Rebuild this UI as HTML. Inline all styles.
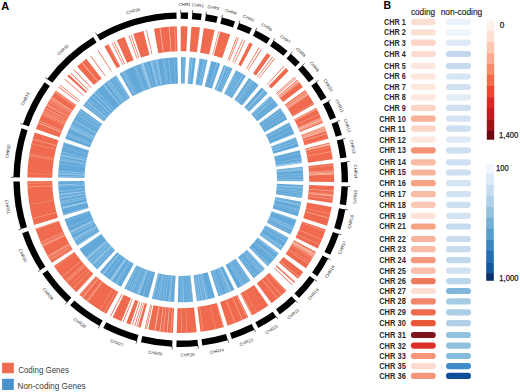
<!DOCTYPE html>
<html><head><meta charset="utf-8"><style>
html,body{margin:0;padding:0;background:#fff;}
svg{display:block;font-family:"Liberation Sans",sans-serif;}
</style></head><body>
<svg width="520" height="392" viewBox="0 0 520 392">
<path fill="#000" d="M180.69,12.40A167.3,167.3 0 0 1 188.13,12.57L187.84,18.96A160.9,160.9 0 0 0 180.69,18.80ZM192.36,12.81A167.3,167.3 0 0 1 201.77,13.73L200.96,20.08A160.9,160.9 0 0 0 191.91,19.19ZM205.96,14.32A167.3,167.3 0 0 1 217.75,16.55L216.33,22.80A160.9,160.9 0 0 0 205.00,20.64ZM221.87,17.54A167.3,167.3 0 0 1 235.10,21.49L233.02,27.54A160.9,160.9 0 0 0 220.29,23.75ZM239.08,22.92A167.3,167.3 0 0 1 251.87,28.29L249.14,34.08A160.9,160.9 0 0 0 236.85,28.92ZM255.68,30.14A167.3,167.3 0 0 1 270.04,38.25L266.62,43.66A160.9,160.9 0 0 0 252.81,35.86ZM273.59,40.55A167.3,167.3 0 0 1 287.51,50.93L283.42,55.86A160.9,160.9 0 0 0 270.03,45.88ZM290.73,53.68A167.3,167.3 0 0 1 299.77,62.18L295.22,66.67A160.9,160.9 0 0 0 286.52,58.50ZM302.71,65.23A167.3,167.3 0 0 1 313.92,78.49L308.82,82.36A160.9,160.9 0 0 0 298.04,69.61ZM316.43,81.90A167.3,167.3 0 0 1 326.42,97.51L320.84,100.65A160.9,160.9 0 0 0 311.24,85.64ZM328.45,101.22A167.3,167.3 0 0 1 336.01,117.50L330.07,119.88A160.9,160.9 0 0 0 322.80,104.22ZM337.53,121.45A167.3,167.3 0 0 1 341.90,134.92L335.73,136.63A160.9,160.9 0 0 0 331.53,123.68ZM342.98,139.01A167.3,167.3 0 0 1 346.52,157.50L340.18,158.35A160.9,160.9 0 0 0 336.77,140.57ZM347.03,161.70A167.3,167.3 0 0 1 347.98,182.25L341.58,182.16A160.9,160.9 0 0 0 340.67,162.39ZM347.86,186.49A167.3,167.3 0 0 1 346.04,205.22L339.72,204.25A160.9,160.9 0 0 0 341.47,186.23ZM345.34,209.40A167.3,167.3 0 0 1 340.28,229.94L334.17,228.02A160.9,160.9 0 0 0 339.04,208.26ZM338.96,233.96A167.3,167.3 0 0 1 330.19,254.81L324.47,251.93A160.9,160.9 0 0 0 332.90,231.88ZM328.25,258.56A167.3,167.3 0 0 1 317.28,276.32L312.06,272.62A160.9,160.9 0 0 0 322.60,255.55ZM314.79,279.74A167.3,167.3 0 0 1 299.05,297.95L294.52,293.42A160.9,160.9 0 0 0 309.66,275.91ZM296.02,300.90A167.3,167.3 0 0 1 279.80,314.49L276.01,309.33A160.9,160.9 0 0 0 291.61,296.27ZM276.36,316.95A167.3,167.3 0 0 1 258.27,327.93L255.31,322.26A160.9,160.9 0 0 0 272.70,311.70ZM254.50,329.84A167.3,167.3 0 0 1 231.91,338.97L229.95,332.88A160.9,160.9 0 0 0 251.68,324.10ZM227.87,340.21A167.3,167.3 0 0 1 202.32,345.60L201.49,339.25A160.9,160.9 0 0 0 226.06,334.07ZM198.12,346.09A167.3,167.3 0 0 1 176.39,346.94L176.56,340.55A160.9,160.9 0 0 0 197.45,339.73ZM172.16,346.78A167.3,167.3 0 0 1 140.86,342.19L142.39,335.97A160.9,160.9 0 0 0 172.49,340.39ZM136.77,341.13A167.3,167.3 0 0 1 103.26,328.00L106.22,322.32A160.9,160.9 0 0 0 138.45,334.95ZM99.53,325.99A167.3,167.3 0 0 1 70.12,305.24L74.35,300.44A160.9,160.9 0 0 0 102.63,320.39ZM66.98,302.40A167.3,167.3 0 0 1 42.37,273.80L47.66,270.20A160.9,160.9 0 0 0 71.33,297.71ZM40.03,270.27A167.3,167.3 0 0 1 22.16,233.13L28.23,231.09A160.9,160.9 0 0 0 45.41,266.80ZM20.86,229.10A167.3,167.3 0 0 1 13.41,181.52L19.81,181.46A160.9,160.9 0 0 0 26.97,227.21ZM13.42,177.29A167.3,167.3 0 0 1 21.48,128.35L27.57,130.31A160.9,160.9 0 0 0 19.82,177.38ZM22.83,124.34A167.3,167.3 0 0 1 44.63,82.37L49.83,86.09A160.9,160.9 0 0 0 28.87,126.45ZM47.13,78.96A167.3,167.3 0 0 1 93.22,37.09L96.57,42.55A160.9,160.9 0 0 0 52.24,82.81ZM96.86,34.92A167.3,167.3 0 0 1 176.45,12.45L176.61,18.85A160.9,160.9 0 0 0 100.07,40.46Z"/>
<path stroke="#000" stroke-width="0.6" d="M180.69,12.90L180.69,9.80M192.32,13.31L192.54,10.21M205.89,14.81L206.36,11.75M221.74,18.03L222.51,15.02M238.91,23.39L239.99,20.48M255.45,30.59L256.84,27.82M273.31,40.97L275.03,38.39M290.41,54.05L292.44,51.72M302.34,65.57L304.60,63.45M316.03,82.19L318.54,80.38M328.01,101.46L330.75,100.00M337.06,121.63L339.97,120.55M342.49,139.14L345.50,138.38M346.53,161.76L349.61,161.42M347.36,186.47L350.46,186.59M344.85,209.31L347.90,209.86M338.48,233.80L341.42,234.80M327.80,258.33L330.54,259.79M314.39,279.44L316.88,281.30M295.68,300.54L297.81,302.79M276.07,316.54L277.85,319.09M254.28,329.39L255.65,332.18M227.72,339.73L228.60,342.71M198.06,345.59L198.39,348.68M172.19,346.28L172.03,349.38M136.90,340.65L136.08,343.64M99.77,325.55L98.27,328.26M67.32,302.04L65.21,304.31M40.45,270.00L37.85,271.67M21.34,228.95L18.38,229.87M13.92,177.30L10.82,177.25M23.30,124.50L20.37,123.48M47.53,79.26L45.06,77.39M97.11,35.36L95.56,32.67"/>
<path fill="#ef6a4e" d="M180.69,26.30A153.4,153.4 0 0 1 187.51,26.45L186.41,51.33A128.5,128.5 0 0 0 180.69,51.20ZM191.39,26.67A153.4,153.4 0 0 1 200.02,27.52L196.88,52.22A128.5,128.5 0 0 0 189.65,51.51ZM203.86,28.06A153.4,153.4 0 0 1 214.67,30.11L209.16,54.39A128.5,128.5 0 0 0 200.10,52.67ZM218.45,31.02A153.4,153.4 0 0 1 219.08,31.18L212.85,55.29A128.5,128.5 0 0 0 212.32,55.15ZM220.16,31.46A153.4,153.4 0 0 1 230.22,34.51L222.18,58.08A128.5,128.5 0 0 0 213.76,55.52ZM236.59,36.84A153.4,153.4 0 0 1 237.34,37.14L228.14,60.28A128.5,128.5 0 0 0 227.52,60.03ZM238.25,37.50A153.4,153.4 0 0 1 238.99,37.81L229.53,60.84A128.5,128.5 0 0 0 228.90,60.58ZM242.25,39.19A153.4,153.4 0 0 1 242.95,39.50L232.84,62.25A128.5,128.5 0 0 0 232.26,62.00ZM244.67,40.27A153.4,153.4 0 0 1 245.40,40.61L234.89,63.19A128.5,128.5 0 0 0 234.28,62.91ZM249.45,42.57A153.4,153.4 0 0 1 252.67,44.23L240.99,66.22A128.5,128.5 0 0 0 238.29,64.83ZM258.66,47.58A153.4,153.4 0 0 1 259.35,47.99L246.58,69.37A128.5,128.5 0 0 0 246.00,69.03ZM260.99,48.99A153.4,153.4 0 0 1 261.67,49.41L248.53,70.56A128.5,128.5 0 0 0 247.96,70.21ZM267.06,52.92A153.4,153.4 0 0 1 270.58,55.39L255.99,75.57A128.5,128.5 0 0 0 253.04,73.50ZM272.31,56.66A153.4,153.4 0 0 1 272.95,57.14L257.98,77.03A128.5,128.5 0 0 0 257.44,76.63ZM274.34,58.20A153.4,153.4 0 0 1 274.98,58.69L259.67,78.33A128.5,128.5 0 0 0 259.14,77.92ZM283.59,65.92A153.4,153.4 0 0 1 284.18,66.46L267.39,84.84A128.5,128.5 0 0 0 266.89,84.39ZM285.81,67.97A153.4,153.4 0 0 1 288.75,70.81L271.21,88.49A128.5,128.5 0 0 0 268.75,86.10ZM294.35,76.67A153.4,153.4 0 0 1 294.89,77.27L276.35,93.89A128.5,128.5 0 0 0 275.90,93.39ZM295.52,77.97A153.4,153.4 0 0 1 296.05,78.58L277.33,94.99A128.5,128.5 0 0 0 276.88,94.49ZM297.04,79.72A153.4,153.4 0 0 1 302.85,86.90L283.02,101.96A128.5,128.5 0 0 0 278.16,95.95ZM305.16,90.02A153.4,153.4 0 0 1 314.31,104.34L292.62,116.57A128.5,128.5 0 0 0 284.95,104.58ZM316.18,107.74A153.4,153.4 0 0 1 323.10,122.67L299.99,131.93A128.5,128.5 0 0 0 294.19,119.42ZM324.50,126.29A153.4,153.4 0 0 1 328.50,138.64L304.51,145.31A128.5,128.5 0 0 0 301.16,134.96ZM329.49,142.39A153.4,153.4 0 0 1 332.74,159.35L308.06,162.65A128.5,128.5 0 0 0 305.34,148.45ZM333.21,163.20A153.4,153.4 0 0 1 334.08,182.04L309.19,181.66A128.5,128.5 0 0 0 308.45,165.88ZM333.97,185.92A153.4,153.4 0 0 1 332.30,203.10L307.70,199.30A128.5,128.5 0 0 0 309.09,184.91ZM331.66,206.93A153.4,153.4 0 0 1 327.02,225.76L303.27,218.29A128.5,128.5 0 0 0 307.16,202.51ZM325.81,229.45A153.4,153.4 0 0 1 317.77,248.57L295.52,237.39A128.5,128.5 0 0 0 302.25,221.38ZM315.99,252.01A153.4,153.4 0 0 1 305.93,268.29L285.61,253.91A128.5,128.5 0 0 0 294.03,240.27ZM303.25,271.96A153.4,153.4 0 0 1 297.88,278.69L278.86,262.62A128.5,128.5 0 0 0 283.36,256.98ZM295.25,281.73A153.4,153.4 0 0 1 294.72,282.32L276.21,265.67A128.5,128.5 0 0 0 276.66,265.17ZM294.66,282.38A153.4,153.4 0 0 1 294.12,282.98L275.71,266.22A128.5,128.5 0 0 0 276.16,265.72ZM292.57,284.66A153.4,153.4 0 0 1 292.02,285.25L273.95,268.11A128.5,128.5 0 0 0 274.41,267.62ZM286.44,290.83A153.4,153.4 0 0 1 271.57,303.29L256.82,283.23A128.5,128.5 0 0 0 269.28,272.79ZM268.41,305.55A153.4,153.4 0 0 1 251.83,315.61L240.28,293.55A128.5,128.5 0 0 0 254.17,285.12ZM248.37,317.37A153.4,153.4 0 0 1 227.66,325.74L220.04,302.03A128.5,128.5 0 0 0 237.38,295.02ZM223.95,326.88A153.4,153.4 0 0 1 200.52,331.81L197.31,307.12A128.5,128.5 0 0 0 216.93,302.99ZM196.67,332.27A153.4,153.4 0 0 1 176.75,333.05L177.39,308.16A128.5,128.5 0 0 0 194.08,307.50ZM172.87,332.90A153.4,153.4 0 0 1 148.14,329.60L153.42,305.27A128.5,128.5 0 0 0 174.14,308.03ZM146.83,329.31A153.4,153.4 0 0 1 146.04,329.13L151.67,304.88A128.5,128.5 0 0 0 152.33,305.03ZM145.41,328.99A153.4,153.4 0 0 1 144.63,328.80L150.49,304.60A128.5,128.5 0 0 0 151.14,304.75ZM140.42,327.72A153.4,153.4 0 0 1 137.87,327.00L144.82,303.09A128.5,128.5 0 0 0 146.95,303.69ZM136.99,326.74A153.4,153.4 0 0 1 136.22,326.51L143.44,302.68A128.5,128.5 0 0 0 144.08,302.87ZM135.09,326.16A153.4,153.4 0 0 1 134.32,325.92L141.85,302.19A128.5,128.5 0 0 0 142.49,302.39ZM132.57,325.35A153.4,153.4 0 0 1 131.81,325.10L139.74,301.50A128.5,128.5 0 0 0 140.38,301.71ZM130.31,324.59A153.4,153.4 0 0 1 126.27,323.12L135.11,299.84A128.5,128.5 0 0 0 138.49,301.07ZM123.56,322.06A153.4,153.4 0 0 1 122.82,321.76L132.21,298.70A128.5,128.5 0 0 0 132.84,298.95ZM121.36,321.16A153.4,153.4 0 0 1 112.64,317.17L123.68,294.86A128.5,128.5 0 0 0 130.99,298.20ZM110.93,316.31A153.4,153.4 0 0 1 110.21,315.95L121.65,293.83A128.5,128.5 0 0 0 122.25,294.14ZM106.27,313.83A153.4,153.4 0 0 1 79.30,294.81L95.76,276.13A128.5,128.5 0 0 0 118.35,292.06ZM76.42,292.21A153.4,153.4 0 0 1 53.86,265.98L74.45,251.97A128.5,128.5 0 0 0 93.35,273.95ZM51.72,262.74A153.4,153.4 0 0 1 35.33,228.69L58.93,220.74A128.5,128.5 0 0 0 72.66,249.26ZM34.14,225.00A153.4,153.4 0 0 1 27.31,181.37L52.21,181.10A128.5,128.5 0 0 0 57.93,217.64ZM27.32,177.49A153.4,153.4 0 0 1 34.70,132.62L58.40,140.26A128.5,128.5 0 0 0 52.21,177.85ZM35.94,128.94A153.4,153.4 0 0 1 55.93,90.46L76.18,104.94A128.5,128.5 0 0 0 59.44,137.18ZM58.33,87.19A153.4,153.4 0 0 1 58.82,86.55L78.60,101.67A128.5,128.5 0 0 0 78.20,102.21ZM59.73,85.37A153.4,153.4 0 0 1 60.23,84.74L79.78,100.15A128.5,128.5 0 0 0 79.37,100.68ZM64.47,79.60A153.4,153.4 0 0 1 64.99,78.99L83.77,95.34A128.5,128.5 0 0 0 83.33,95.84ZM67.40,76.29A153.4,153.4 0 0 1 68.96,74.60L87.10,91.66A128.5,128.5 0 0 0 85.79,93.07ZM70.27,73.23A153.4,153.4 0 0 1 70.83,72.65L88.66,90.03A128.5,128.5 0 0 0 88.19,90.51ZM73.50,69.97A153.4,153.4 0 0 1 74.08,69.41L91.39,87.31A128.5,128.5 0 0 0 90.90,87.78ZM77.13,66.54A153.4,153.4 0 0 1 86.34,58.75L101.66,78.39A128.5,128.5 0 0 0 93.95,84.91ZM90.15,55.88A153.4,153.4 0 0 1 90.79,55.41L105.39,75.58A128.5,128.5 0 0 0 104.84,75.98ZM97.72,50.68A153.4,153.4 0 0 1 98.40,50.25L111.76,71.26A128.5,128.5 0 0 0 111.19,71.62ZM104.49,46.57A153.4,153.4 0 0 1 108.51,44.35L120.23,66.32A128.5,128.5 0 0 0 116.86,68.18ZM111.56,42.77A153.4,153.4 0 0 1 112.28,42.41L123.38,64.69A128.5,128.5 0 0 0 122.78,64.99ZM113.62,41.75A153.4,153.4 0 0 1 114.34,41.40L125.11,63.85A128.5,128.5 0 0 0 124.51,64.14ZM116.75,40.26A153.4,153.4 0 0 1 124.51,36.96L133.63,60.13A128.5,128.5 0 0 0 127.13,62.90ZM128.43,35.48A153.4,153.4 0 0 1 129.19,35.21L137.55,58.66A128.5,128.5 0 0 0 136.92,58.89ZM130.60,34.71A153.4,153.4 0 0 1 131.36,34.45L139.37,58.03A128.5,128.5 0 0 0 138.73,58.25ZM133.16,33.85A153.4,153.4 0 0 1 143.47,30.89L149.51,55.04A128.5,128.5 0 0 0 140.87,57.53ZM146.05,30.26A153.4,153.4 0 0 1 146.84,30.08L152.33,54.37A128.5,128.5 0 0 0 151.68,54.52ZM153.95,28.65A153.4,153.4 0 0 1 176.80,26.35L177.44,51.24A128.5,128.5 0 0 0 158.30,53.17Z"/>
<path fill="#f59a82" d="M298.75,81.75A153.4,153.4 0 0 1 299.18,82.26L279.95,98.08A128.5,128.5 0 0 0 279.59,97.65ZM299.21,82.30A153.4,153.4 0 0 1 299.55,82.72L280.26,98.46A128.5,128.5 0 0 0 279.98,98.11ZM305.72,90.81A153.4,153.4 0 0 1 306.03,91.24L285.68,105.60A128.5,128.5 0 0 0 285.42,105.23ZM308.54,94.91A153.4,153.4 0 0 1 308.84,95.36L288.04,109.05A128.5,128.5 0 0 0 287.79,108.68ZM313.38,102.71A153.4,153.4 0 0 1 313.72,103.29L292.13,115.70A128.5,128.5 0 0 0 291.85,115.21ZM316.21,107.81A153.4,153.4 0 0 1 316.71,108.76L294.63,120.28A128.5,128.5 0 0 0 294.22,119.48ZM319.12,113.59A153.4,153.4 0 0 1 319.41,114.20L296.90,124.83A128.5,128.5 0 0 0 296.65,124.32ZM316.62,108.59A153.4,153.4 0 0 1 317.12,109.54L294.97,120.93A128.5,128.5 0 0 0 294.56,120.13ZM324.68,126.76A153.4,153.4 0 0 1 324.86,127.26L301.46,135.78A128.5,128.5 0 0 0 301.31,135.35ZM328.25,137.73A153.4,153.4 0 0 1 328.39,138.24L304.42,144.97A128.5,128.5 0 0 0 304.30,144.54ZM326.78,132.87A153.4,153.4 0 0 1 327.10,133.89L303.34,141.32A128.5,128.5 0 0 0 303.07,140.47ZM324.61,126.58A153.4,153.4 0 0 1 324.84,127.21L301.44,135.73A128.5,128.5 0 0 0 301.25,135.20ZM324.60,126.55A153.4,153.4 0 0 1 324.83,127.17L301.43,135.70A128.5,128.5 0 0 0 301.24,135.17ZM330.56,146.94A153.4,153.4 0 0 1 330.70,147.59L306.35,152.80A128.5,128.5 0 0 0 306.24,152.26ZM331.41,151.12A153.4,153.4 0 0 1 331.56,151.91L307.07,156.42A128.5,128.5 0 0 0 306.95,155.76ZM333.97,173.41A153.4,153.4 0 0 1 334.00,174.08L309.11,174.99A128.5,128.5 0 0 0 309.09,174.43ZM333.37,164.80A153.4,153.4 0 0 1 333.44,165.47L308.65,167.78A128.5,128.5 0 0 0 308.59,167.22ZM333.79,169.94A153.4,153.4 0 0 1 333.82,170.47L308.97,171.97A128.5,128.5 0 0 0 308.94,171.52ZM333.30,195.31A153.4,153.4 0 0 1 333.23,195.97L308.47,193.33A128.5,128.5 0 0 0 308.53,192.78ZM333.44,193.94A153.4,153.4 0 0 1 333.33,195.01L308.56,192.52A128.5,128.5 0 0 0 308.65,191.63ZM332.91,198.76A153.4,153.4 0 0 1 332.77,199.82L308.09,196.56A128.5,128.5 0 0 0 308.20,195.67ZM329.37,217.51A153.4,153.4 0 0 1 329.10,218.55L305.01,212.24A128.5,128.5 0 0 0 305.23,211.37ZM330.33,213.48A153.4,153.4 0 0 1 330.19,214.13L305.92,208.54A128.5,128.5 0 0 0 306.05,208.00ZM319.78,244.42A153.4,153.4 0 0 1 319.49,245.03L296.96,234.43A128.5,128.5 0 0 0 297.20,233.92ZM325.38,230.68A153.4,153.4 0 0 1 325.11,231.43L301.67,223.04A128.5,128.5 0 0 0 301.90,222.40ZM322.07,239.26A153.4,153.4 0 0 1 321.75,240.00L298.86,230.21A128.5,128.5 0 0 0 299.12,229.59ZM309.07,263.67A153.4,153.4 0 0 1 308.63,264.35L287.87,250.61A128.5,128.5 0 0 0 288.24,250.04ZM310.25,261.85A153.4,153.4 0 0 1 309.96,262.30L288.98,248.89A128.5,128.5 0 0 0 289.22,248.51ZM315.17,253.53A153.4,153.4 0 0 1 314.65,254.47L292.90,242.33A128.5,128.5 0 0 0 293.34,241.54ZM314.67,254.43A153.4,153.4 0 0 1 314.27,255.13L292.59,242.89A128.5,128.5 0 0 0 292.92,242.30ZM314.85,254.10A153.4,153.4 0 0 1 314.33,255.03L292.64,242.80A128.5,128.5 0 0 0 293.08,242.02ZM312.13,258.80A153.4,153.4 0 0 1 311.86,259.26L290.57,246.34A128.5,128.5 0 0 0 290.80,245.96ZM299.44,276.82A153.4,153.4 0 0 1 298.93,277.44L279.74,261.58A128.5,128.5 0 0 0 280.16,261.06ZM281.86,295.02A153.4,153.4 0 0 1 281.26,295.54L264.93,276.74A128.5,128.5 0 0 0 265.44,276.30ZM278.20,298.13A153.4,153.4 0 0 1 277.37,298.80L261.68,279.47A128.5,128.5 0 0 0 262.38,278.90ZM285.66,291.57A153.4,153.4 0 0 1 285.27,291.93L268.30,273.71A128.5,128.5 0 0 0 268.63,273.41ZM253.25,314.86A153.4,153.4 0 0 1 252.31,315.36L240.68,293.34A128.5,128.5 0 0 0 241.47,292.92ZM257.22,312.65A153.4,153.4 0 0 1 256.75,312.92L244.41,291.30A128.5,128.5 0 0 0 244.80,291.07ZM247.51,317.79A153.4,153.4 0 0 1 246.78,318.14L236.06,295.66A128.5,128.5 0 0 0 236.66,295.37ZM235.60,322.94A153.4,153.4 0 0 1 234.60,323.32L225.85,300.01A128.5,128.5 0 0 0 226.69,299.69ZM243.09,319.84A153.4,153.4 0 0 1 242.11,320.27L232.14,297.45A128.5,128.5 0 0 0 232.96,297.09ZM203.60,331.38A153.4,153.4 0 0 1 202.81,331.50L199.22,306.86A128.5,128.5 0 0 0 199.88,306.76ZM223.94,326.88A153.4,153.4 0 0 1 222.91,327.18L216.06,303.24A128.5,128.5 0 0 0 216.92,302.99ZM215.97,328.99A153.4,153.4 0 0 1 215.45,329.11L209.81,304.86A128.5,128.5 0 0 0 210.25,304.76ZM187.18,332.96A153.4,153.4 0 0 1 186.51,332.99L185.57,308.11A128.5,128.5 0 0 0 186.13,308.09ZM181.71,333.10A153.4,153.4 0 0 1 181.04,333.10L180.98,308.20A128.5,128.5 0 0 0 181.54,308.20ZM155.08,330.95A153.4,153.4 0 0 1 154.02,330.76L158.35,306.24A128.5,128.5 0 0 0 159.24,306.40ZM163.67,332.15A153.4,153.4 0 0 1 162.61,332.03L165.55,307.30A128.5,128.5 0 0 0 166.44,307.41ZM171.40,332.82A153.4,153.4 0 0 1 170.33,332.75L172.01,307.91A128.5,128.5 0 0 0 172.91,307.96ZM163.27,332.11A153.4,153.4 0 0 1 162.48,332.01L165.43,307.29A128.5,128.5 0 0 0 166.10,307.37ZM82.64,297.67A153.4,153.4 0 0 1 81.82,296.98L97.87,277.94A128.5,128.5 0 0 0 98.56,278.52ZM83.03,297.99A153.4,153.4 0 0 1 82.41,297.48L98.37,278.36A128.5,128.5 0 0 0 98.89,278.79ZM87.11,301.24A153.4,153.4 0 0 1 86.47,300.75L101.77,281.10A128.5,128.5 0 0 0 102.30,281.51ZM87.83,301.80A153.4,153.4 0 0 1 86.98,301.14L102.20,281.43A128.5,128.5 0 0 0 102.91,281.98ZM80.61,295.95A153.4,153.4 0 0 1 80.11,295.51L96.43,276.71A128.5,128.5 0 0 0 96.86,277.08ZM104.17,312.65A153.4,153.4 0 0 1 103.59,312.31L116.11,290.79A128.5,128.5 0 0 0 116.60,291.07ZM99.95,310.12A153.4,153.4 0 0 1 99.38,309.77L112.58,288.66A128.5,128.5 0 0 0 113.05,288.95ZM76.36,292.15A153.4,153.4 0 0 1 75.87,291.70L92.89,273.52A128.5,128.5 0 0 0 93.30,273.90ZM70.12,286.01A153.4,153.4 0 0 1 69.75,285.63L87.76,268.43A128.5,128.5 0 0 0 88.07,268.76ZM73.06,289.00A153.4,153.4 0 0 1 72.49,288.43L90.06,270.78A128.5,128.5 0 0 0 90.53,271.26ZM62.21,277.13A153.4,153.4 0 0 1 61.70,276.50L81.02,260.79A128.5,128.5 0 0 0 81.44,261.31ZM54.94,267.54A153.4,153.4 0 0 1 54.63,267.10L75.10,252.91A128.5,128.5 0 0 0 75.35,253.28ZM65.74,281.27A153.4,153.4 0 0 1 65.04,280.46L83.81,264.11A128.5,128.5 0 0 0 84.40,264.78ZM67.10,282.78A153.4,153.4 0 0 1 66.38,281.99L84.94,265.38A128.5,128.5 0 0 0 85.54,266.05ZM49.92,259.87A153.4,153.4 0 0 1 49.36,258.96L70.68,246.09A128.5,128.5 0 0 0 71.15,246.86ZM50.60,260.98A153.4,153.4 0 0 1 50.32,260.52L71.48,247.40A128.5,128.5 0 0 0 71.72,247.78ZM35.69,229.75A153.4,153.4 0 0 1 35.35,228.73L58.94,220.78A128.5,128.5 0 0 0 59.23,221.62ZM48.70,257.85A153.4,153.4 0 0 1 48.29,257.16L69.79,244.59A128.5,128.5 0 0 0 70.13,245.17ZM40.97,243.01A153.4,153.4 0 0 1 40.75,242.52L63.47,232.32A128.5,128.5 0 0 0 63.65,232.73ZM51.90,263.02A153.4,153.4 0 0 1 51.54,262.45L72.50,249.02A128.5,128.5 0 0 0 72.80,249.49ZM42.05,245.33A153.4,153.4 0 0 1 41.71,244.61L64.27,234.07A128.5,128.5 0 0 0 64.56,234.68ZM40.77,242.56A153.4,153.4 0 0 1 40.55,242.07L63.30,231.95A128.5,128.5 0 0 0 63.48,232.36ZM27.50,187.47A153.4,153.4 0 0 1 27.45,186.40L52.32,185.32A128.5,128.5 0 0 0 52.37,186.21ZM32.43,219.06A153.4,153.4 0 0 1 32.23,218.28L56.33,212.02A128.5,128.5 0 0 0 56.50,212.67ZM27.35,183.75A153.4,153.4 0 0 1 27.33,182.94L52.23,182.42A128.5,128.5 0 0 0 52.24,183.09ZM29.37,204.83A153.4,153.4 0 0 1 29.29,204.30L53.86,200.31A128.5,128.5 0 0 0 53.94,200.75ZM32.60,139.74A153.4,153.4 0 0 1 32.88,138.71L56.87,145.36A128.5,128.5 0 0 0 56.64,146.23ZM29.13,156.06A153.4,153.4 0 0 1 29.26,155.26L53.84,159.23A128.5,128.5 0 0 0 53.74,159.90ZM27.41,173.84A153.4,153.4 0 0 1 27.43,173.30L52.31,174.34A128.5,128.5 0 0 0 52.29,174.79ZM31.51,144.00A153.4,153.4 0 0 1 31.70,143.22L55.89,149.14A128.5,128.5 0 0 0 55.73,149.80ZM29.13,156.07A153.4,153.4 0 0 1 29.24,155.41L53.82,159.35A128.5,128.5 0 0 0 53.73,159.91ZM29.41,154.37A153.4,153.4 0 0 1 29.52,153.71L54.06,157.93A128.5,128.5 0 0 0 53.96,158.48ZM54.47,92.53A153.4,153.4 0 0 1 54.93,91.87L75.35,106.13A128.5,128.5 0 0 0 74.96,106.68ZM38.08,123.21A153.4,153.4 0 0 1 38.28,122.71L61.40,131.96A128.5,128.5 0 0 0 61.23,132.38ZM49.90,99.56A153.4,153.4 0 0 1 50.32,98.88L71.48,112.00A128.5,128.5 0 0 0 71.13,112.57ZM55.24,91.44A153.4,153.4 0 0 1 55.54,91.00L75.86,105.40A128.5,128.5 0 0 0 75.60,105.76ZM48.51,101.87A153.4,153.4 0 0 1 48.92,101.18L70.31,113.93A128.5,128.5 0 0 0 69.97,114.50ZM44.79,108.57A153.4,153.4 0 0 1 45.10,107.98L67.11,119.62A128.5,128.5 0 0 0 66.85,120.12ZM41.65,114.92A153.4,153.4 0 0 1 41.93,114.31L64.46,124.93A128.5,128.5 0 0 0 64.22,125.43ZM45.04,108.09A153.4,153.4 0 0 1 45.42,107.38L67.38,119.12A128.5,128.5 0 0 0 67.06,119.71ZM47.24,104.06A153.4,153.4 0 0 1 47.57,103.48L69.18,115.85A128.5,128.5 0 0 0 68.91,116.34ZM50.93,97.90A153.4,153.4 0 0 1 51.50,97.00L72.47,110.42A128.5,128.5 0 0 0 71.99,111.18ZM49.52,100.18A153.4,153.4 0 0 1 49.87,99.61L71.10,112.61A128.5,128.5 0 0 0 70.81,113.09ZM38.85,121.31A153.4,153.4 0 0 1 39.26,120.32L62.22,129.96A128.5,128.5 0 0 0 61.87,130.79ZM41.68,114.86A153.4,153.4 0 0 1 41.90,114.38L64.43,124.98A128.5,128.5 0 0 0 64.24,125.39ZM55.44,91.15A153.4,153.4 0 0 1 55.90,90.50L76.16,104.98A128.5,128.5 0 0 0 75.77,105.53ZM43.87,110.36A153.4,153.4 0 0 1 44.17,109.76L66.33,121.11A128.5,128.5 0 0 0 66.08,121.61ZM48.43,102.01A153.4,153.4 0 0 1 48.84,101.32L70.24,114.04A128.5,128.5 0 0 0 69.90,114.62ZM43.35,111.39A153.4,153.4 0 0 1 43.71,110.67L65.94,121.88A128.5,128.5 0 0 0 65.64,122.48ZM174.30,26.43A153.4,153.4 0 0 1 175.10,26.40L176.01,51.29A128.5,128.5 0 0 0 175.34,51.31ZM107.54,44.87A153.4,153.4 0 0 1 108.02,44.61L119.81,66.54A128.5,128.5 0 0 0 119.42,66.75Z"/>
<path fill="#f8b8a5" d="M297.59,80.36A153.4,153.4 0 0 1 298.14,81.01L279.08,97.03A128.5,128.5 0 0 0 278.62,96.48ZM298.10,80.97A153.4,153.4 0 0 1 298.65,81.63L279.51,97.55A128.5,128.5 0 0 0 279.05,96.99ZM306.09,91.33A153.4,153.4 0 0 1 306.58,92.04L286.15,106.27A128.5,128.5 0 0 0 285.74,105.68ZM307.06,92.73A153.4,153.4 0 0 1 307.55,93.44L286.96,107.44A128.5,128.5 0 0 0 286.55,106.85ZM307.83,93.85A153.4,153.4 0 0 1 308.31,94.56L287.59,108.38A128.5,128.5 0 0 0 287.19,107.79ZM320.89,117.42A153.4,153.4 0 0 1 321.23,118.21L298.42,128.19A128.5,128.5 0 0 0 298.13,127.53ZM321.42,118.63A153.4,153.4 0 0 1 321.76,119.41L298.86,129.20A128.5,128.5 0 0 0 298.58,128.54ZM321.81,119.54A153.4,153.4 0 0 1 322.14,120.32L299.18,129.96A128.5,128.5 0 0 0 298.90,129.30ZM322.32,120.75A153.4,153.4 0 0 1 322.65,121.54L299.61,130.98A128.5,128.5 0 0 0 299.33,130.32ZM324.71,126.86A153.4,153.4 0 0 1 325.01,127.67L301.58,136.12A128.5,128.5 0 0 0 301.34,135.44ZM325.16,128.09A153.4,153.4 0 0 1 325.44,128.89L301.95,137.14A128.5,128.5 0 0 0 301.71,136.46ZM325.59,129.31A153.4,153.4 0 0 1 325.87,130.12L302.30,138.17A128.5,128.5 0 0 0 302.07,137.49ZM325.93,130.29A153.4,153.4 0 0 1 326.20,131.10L302.58,138.99A128.5,128.5 0 0 0 302.35,138.31ZM329.72,143.32A153.4,153.4 0 0 1 329.92,144.15L305.70,149.92A128.5,128.5 0 0 0 305.53,149.22ZM329.97,144.33A153.4,153.4 0 0 1 330.16,145.16L305.90,150.77A128.5,128.5 0 0 0 305.74,150.07ZM333.87,171.24A153.4,153.4 0 0 1 333.91,172.09L309.04,173.33A128.5,128.5 0 0 0 309.00,172.61ZM333.93,172.56A153.4,153.4 0 0 1 333.97,173.41L309.09,174.43A128.5,128.5 0 0 0 309.06,173.72ZM333.98,173.69A153.4,153.4 0 0 1 334.01,174.54L309.13,175.38A128.5,128.5 0 0 0 309.10,174.66ZM333.71,190.67A153.4,153.4 0 0 1 333.64,191.52L308.82,189.60A128.5,128.5 0 0 0 308.87,188.89ZM333.25,195.83A153.4,153.4 0 0 1 333.16,196.68L308.41,193.92A128.5,128.5 0 0 0 308.49,193.21ZM315.28,253.32A153.4,153.4 0 0 1 314.87,254.07L293.09,242.00A128.5,128.5 0 0 0 293.43,241.37ZM314.72,254.32A153.4,153.4 0 0 1 314.31,255.07L292.62,242.84A128.5,128.5 0 0 0 292.97,242.21ZM314.16,255.33A153.4,153.4 0 0 1 313.74,256.07L292.14,243.67A128.5,128.5 0 0 0 292.50,243.05ZM313.40,256.65A153.4,153.4 0 0 1 312.97,257.39L291.50,244.78A128.5,128.5 0 0 0 291.86,244.16ZM167.50,332.53A153.4,153.4 0 0 1 166.65,332.46L168.93,307.66A128.5,128.5 0 0 0 169.65,307.72ZM160.29,331.74A153.4,153.4 0 0 1 159.44,331.62L162.89,306.96A128.5,128.5 0 0 0 163.60,307.06ZM155.40,331.00A153.4,153.4 0 0 1 154.56,330.86L158.80,306.32A128.5,128.5 0 0 0 159.51,306.44ZM47.99,256.64A153.4,153.4 0 0 1 47.56,255.90L69.18,243.53A128.5,128.5 0 0 0 69.53,244.15ZM42.66,246.61A153.4,153.4 0 0 1 42.29,245.84L64.76,235.10A128.5,128.5 0 0 0 65.07,235.75ZM38.07,123.22A153.4,153.4 0 0 1 38.39,122.43L61.49,131.72A128.5,128.5 0 0 0 61.23,132.39ZM42.43,113.26A153.4,153.4 0 0 1 42.81,112.49L65.19,123.40A128.5,128.5 0 0 0 64.88,124.05ZM46.42,105.53A153.4,153.4 0 0 1 46.84,104.78L68.57,116.94A128.5,128.5 0 0 0 68.22,117.57ZM50.84,98.04A153.4,153.4 0 0 1 51.30,97.31L72.31,110.69A128.5,128.5 0 0 0 71.92,111.29ZM81.55,62.65A153.4,153.4 0 0 1 82.21,62.09L98.20,81.18A128.5,128.5 0 0 0 97.65,81.65ZM159.59,27.76A153.4,153.4 0 0 1 160.43,27.64L163.72,52.33A128.5,128.5 0 0 0 163.01,52.42ZM168.73,26.77A153.4,153.4 0 0 1 169.58,26.70L171.39,51.54A128.5,128.5 0 0 0 170.67,51.59Z"/>
<path fill="#62a8d8" d="M181.01,57.10A122.6,122.6 0 0 1 185.82,57.21L184.72,83.48A96.3,96.3 0 0 0 180.94,83.40ZM189.56,57.42A122.6,122.6 0 0 1 195.82,58.04L192.58,84.14A96.3,96.3 0 0 0 187.66,83.65ZM199.53,58.55A122.6,122.6 0 0 1 207.54,60.07L201.78,85.74A96.3,96.3 0 0 0 195.49,84.54ZM211.18,60.95A122.6,122.6 0 0 1 220.26,63.66L211.77,88.55A96.3,96.3 0 0 0 204.64,86.42ZM223.79,64.92A122.6,122.6 0 0 1 232.56,68.61L221.44,92.44A96.3,96.3 0 0 0 214.54,89.54ZM235.93,70.24A122.6,122.6 0 0 1 245.89,75.87L231.91,98.14A96.3,96.3 0 0 0 224.08,93.73ZM249.04,77.91A122.6,122.6 0 0 1 258.72,85.13L241.99,105.42A96.3,96.3 0 0 0 234.38,99.75ZM261.58,87.56A122.6,122.6 0 0 1 267.73,93.35L249.06,111.87A96.3,96.3 0 0 0 244.23,107.33ZM270.33,96.05A122.6,122.6 0 0 1 278.13,105.28L257.23,121.24A96.3,96.3 0 0 0 251.10,113.99ZM280.36,108.29A122.6,122.6 0 0 1 287.33,119.19L264.45,132.17A96.3,96.3 0 0 0 258.98,123.61ZM289.12,122.47A122.6,122.6 0 0 1 294.39,133.82L270.00,143.66A96.3,96.3 0 0 0 265.87,134.75ZM295.74,137.32A122.6,122.6 0 0 1 298.74,146.58L273.42,153.68A96.3,96.3 0 0 0 271.06,146.41ZM299.70,150.20A122.6,122.6 0 0 1 302.17,163.11L276.11,166.67A96.3,96.3 0 0 0 274.17,156.53ZM302.62,166.83A122.6,122.6 0 0 1 303.29,181.25L276.99,180.92A96.3,96.3 0 0 0 276.47,169.59ZM303.19,184.99A122.6,122.6 0 0 1 301.91,198.09L275.91,194.14A96.3,96.3 0 0 0 276.91,183.86ZM301.30,201.78A122.6,122.6 0 0 1 297.74,216.21L272.63,208.38A96.3,96.3 0 0 0 275.43,197.04ZM296.57,219.77A122.6,122.6 0 0 1 290.40,234.45L266.86,222.71A96.3,96.3 0 0 0 271.71,211.17ZM288.67,237.78A122.6,122.6 0 0 1 280.97,250.24L259.46,235.11A96.3,96.3 0 0 0 265.51,225.32ZM278.77,253.27A122.6,122.6 0 0 1 267.66,266.13L249.00,247.59A96.3,96.3 0 0 0 257.73,237.49ZM264.98,268.74A122.6,122.6 0 0 1 253.58,278.28L237.95,257.14A96.3,96.3 0 0 0 246.90,249.64ZM250.54,280.46A122.6,122.6 0 0 1 237.83,288.17L225.58,264.90A96.3,96.3 0 0 0 235.56,258.85ZM234.49,289.87A122.6,122.6 0 0 1 218.53,296.32L210.42,271.30A96.3,96.3 0 0 0 222.95,266.24ZM214.96,297.42A122.6,122.6 0 0 1 196.86,301.23L193.39,275.16A96.3,96.3 0 0 0 207.61,272.16ZM193.14,301.67A122.6,122.6 0 0 1 177.87,302.27L178.47,275.97A96.3,96.3 0 0 0 190.47,275.50ZM174.12,302.12A122.6,122.6 0 0 1 151.82,298.85L158.01,273.29A96.3,96.3 0 0 0 175.53,275.86ZM148.19,297.91A122.6,122.6 0 0 1 124.23,288.52L136.35,265.18A96.3,96.3 0 0 0 155.17,272.55ZM120.94,286.75A122.6,122.6 0 0 1 99.90,271.91L117.24,252.13A96.3,96.3 0 0 0 133.76,263.78ZM97.13,269.40A122.6,122.6 0 0 1 79.51,248.92L101.22,234.07A96.3,96.3 0 0 0 115.05,250.16ZM77.44,245.80A122.6,122.6 0 0 1 64.62,219.16L89.52,210.69A96.3,96.3 0 0 0 99.59,231.62ZM63.47,215.60A122.6,122.6 0 0 1 58.11,181.36L84.41,181.00A96.3,96.3 0 0 0 88.62,207.90ZM58.12,177.61A122.6,122.6 0 0 1 63.92,142.37L88.97,150.38A96.3,96.3 0 0 0 84.41,178.06ZM65.11,138.83A122.6,122.6 0 0 1 80.80,108.64L102.23,123.88A96.3,96.3 0 0 0 89.91,147.59ZM83.01,105.62A122.6,122.6 0 0 1 116.32,75.36L130.13,97.74A96.3,96.3 0 0 0 103.97,121.51ZM119.54,73.45A122.6,122.6 0 0 1 177.27,57.15L178.00,83.44A96.3,96.3 0 0 0 132.66,96.24Z"/>
<path fill="#9fcbea" d="M182.92,57.12A122.6,122.6 0 0 1 183.46,57.13L182.86,83.42A96.3,96.3 0 0 0 182.44,83.42ZM184.92,57.17A122.6,122.6 0 0 1 185.35,57.19L184.35,83.47A96.3,96.3 0 0 0 184.02,83.46ZM192.13,57.63A122.6,122.6 0 0 1 192.66,57.68L190.09,83.86A96.3,96.3 0 0 0 189.68,83.82ZM190.49,57.49A122.6,122.6 0 0 1 191.02,57.54L188.81,83.74A96.3,96.3 0 0 0 188.39,83.71ZM192.28,57.65A122.6,122.6 0 0 1 192.81,57.70L190.21,83.87A96.3,96.3 0 0 0 189.79,83.83ZM205.73,59.68A122.6,122.6 0 0 1 206.05,59.75L200.61,85.48A96.3,96.3 0 0 0 200.36,85.43ZM202.96,59.14A122.6,122.6 0 0 1 203.28,59.20L198.43,85.05A96.3,96.3 0 0 0 198.19,85.00ZM200.00,58.63A122.6,122.6 0 0 1 200.52,58.71L196.27,84.67A96.3,96.3 0 0 0 195.86,84.60ZM204.36,59.40A122.6,122.6 0 0 1 204.89,59.51L199.70,85.29A96.3,96.3 0 0 0 199.28,85.21ZM219.90,63.54A122.6,122.6 0 0 1 220.30,63.67L211.81,88.56A96.3,96.3 0 0 0 211.49,88.45ZM216.89,62.56A122.6,122.6 0 0 1 217.40,62.72L209.52,87.82A96.3,96.3 0 0 0 209.12,87.69ZM216.85,62.55A122.6,122.6 0 0 1 217.36,62.71L209.50,87.81A96.3,96.3 0 0 0 209.10,87.68ZM211.06,60.92A122.6,122.6 0 0 1 211.58,61.05L204.95,86.50A96.3,96.3 0 0 0 204.55,86.40ZM211.60,61.06A122.6,122.6 0 0 1 211.91,61.14L205.22,86.57A96.3,96.3 0 0 0 204.97,86.51ZM225.33,65.51A122.6,122.6 0 0 1 225.63,65.63L215.99,90.10A96.3,96.3 0 0 0 215.75,90.01ZM228.89,66.97A122.6,122.6 0 0 1 229.28,67.14L218.86,91.28A96.3,96.3 0 0 0 218.55,91.15ZM226.43,65.95A122.6,122.6 0 0 1 226.93,66.15L217.01,90.51A96.3,96.3 0 0 0 216.62,90.35ZM230.95,67.87A122.6,122.6 0 0 1 231.44,68.09L220.56,92.04A96.3,96.3 0 0 0 220.17,91.86ZM225.66,65.64A122.6,122.6 0 0 1 226.06,65.80L216.33,90.23A96.3,96.3 0 0 0 216.02,90.11ZM240.74,72.81A122.6,122.6 0 0 1 241.21,73.07L228.23,95.95A96.3,96.3 0 0 0 227.86,95.74ZM236.56,70.56A122.6,122.6 0 0 1 237.03,70.81L224.95,94.17A96.3,96.3 0 0 0 224.58,93.98ZM238.52,71.59A122.6,122.6 0 0 1 238.99,71.84L226.49,94.98A96.3,96.3 0 0 0 226.12,94.78ZM245.72,75.76A122.6,122.6 0 0 1 245.99,75.93L231.98,98.19A96.3,96.3 0 0 0 231.77,98.06ZM242.85,74.02A122.6,122.6 0 0 1 243.22,74.24L229.81,96.86A96.3,96.3 0 0 0 229.52,96.69ZM243.30,74.29A122.6,122.6 0 0 1 243.76,74.56L230.23,97.12A96.3,96.3 0 0 0 229.87,96.90ZM251.78,79.81A122.6,122.6 0 0 1 252.04,79.99L236.74,101.38A96.3,96.3 0 0 0 236.53,101.24ZM254.45,81.76A122.6,122.6 0 0 1 254.71,81.96L238.83,102.92A96.3,96.3 0 0 0 238.63,102.77ZM252.83,80.56A122.6,122.6 0 0 1 253.17,80.81L237.63,102.03A96.3,96.3 0 0 0 237.35,101.83ZM252.73,80.49A122.6,122.6 0 0 1 252.99,80.68L237.49,101.92A96.3,96.3 0 0 0 237.28,101.78ZM257.17,83.87A122.6,122.6 0 0 1 257.42,84.07L240.96,104.58A96.3,96.3 0 0 0 240.76,104.43ZM251.03,79.28A122.6,122.6 0 0 1 251.29,79.46L236.15,100.97A96.3,96.3 0 0 0 235.94,100.82ZM264.32,90.05A122.6,122.6 0 0 1 264.71,90.41L246.69,109.57A96.3,96.3 0 0 0 246.38,109.28ZM263.95,89.70A122.6,122.6 0 0 1 264.19,89.92L246.28,109.18A96.3,96.3 0 0 0 246.09,109.01ZM264.99,90.68A122.6,122.6 0 0 1 265.23,90.90L247.09,109.95A96.3,96.3 0 0 0 246.91,109.77ZM266.25,91.88A122.6,122.6 0 0 1 266.56,92.18L248.14,110.96A96.3,96.3 0 0 0 247.90,110.72ZM272.92,98.91A122.6,122.6 0 0 1 273.20,99.23L253.35,116.49A96.3,96.3 0 0 0 253.13,116.24ZM272.88,98.87A122.6,122.6 0 0 1 273.16,99.19L253.33,116.46A96.3,96.3 0 0 0 253.11,116.21ZM276.22,102.85A122.6,122.6 0 0 1 276.42,103.10L255.89,119.53A96.3,96.3 0 0 0 255.73,119.34ZM271.25,97.05A122.6,122.6 0 0 1 271.61,97.44L252.11,115.09A96.3,96.3 0 0 0 251.83,114.78ZM271.05,96.83A122.6,122.6 0 0 1 271.26,97.06L251.84,114.79A96.3,96.3 0 0 0 251.67,114.60ZM273.93,100.08A122.6,122.6 0 0 1 274.21,100.41L254.15,117.42A96.3,96.3 0 0 0 253.93,117.16ZM281.53,109.95A122.6,122.6 0 0 1 281.83,110.39L260.13,125.26A96.3,96.3 0 0 0 259.90,124.91ZM281.60,110.06A122.6,122.6 0 0 1 281.91,110.51L260.20,125.35A96.3,96.3 0 0 0 259.96,125.00ZM281.62,110.09A122.6,122.6 0 0 1 281.92,110.53L260.21,125.37A96.3,96.3 0 0 0 259.97,125.02ZM285.71,116.43A122.6,122.6 0 0 1 285.93,116.80L263.36,130.29A96.3,96.3 0 0 0 263.19,130.00ZM284.89,115.09A122.6,122.6 0 0 1 285.06,115.36L262.67,129.16A96.3,96.3 0 0 0 262.54,128.95ZM283.16,112.37A122.6,122.6 0 0 1 283.33,112.64L261.32,127.02A96.3,96.3 0 0 0 261.18,126.81ZM280.20,108.08A122.6,122.6 0 0 1 280.51,108.51L259.10,123.78A96.3,96.3 0 0 0 258.86,123.44ZM290.78,125.72A122.6,122.6 0 0 1 290.92,126.01L267.28,137.53A96.3,96.3 0 0 0 267.16,137.30ZM290.23,124.63A122.6,122.6 0 0 1 290.43,125.01L266.89,136.74A96.3,96.3 0 0 0 266.74,136.44ZM294.27,133.53A122.6,122.6 0 0 1 294.47,134.02L270.07,143.82A96.3,96.3 0 0 0 269.91,143.43ZM292.57,129.55A122.6,122.6 0 0 1 292.70,129.84L268.68,140.54A96.3,96.3 0 0 0 268.57,140.31ZM289.30,122.80A122.6,122.6 0 0 1 289.44,123.08L266.12,135.23A96.3,96.3 0 0 0 266.00,135.00ZM290.25,124.66A122.6,122.6 0 0 1 290.44,125.04L266.90,136.76A96.3,96.3 0 0 0 266.75,136.46ZM289.06,122.34A122.6,122.6 0 0 1 289.30,122.82L266.01,135.02A96.3,96.3 0 0 0 265.81,134.65ZM296.74,140.13A122.6,122.6 0 0 1 296.88,140.54L271.95,148.94A96.3,96.3 0 0 0 271.85,148.62ZM296.94,140.71A122.6,122.6 0 0 1 297.04,141.02L272.08,149.31A96.3,96.3 0 0 0 272.00,149.08ZM295.95,137.89A122.6,122.6 0 0 1 296.13,138.39L271.37,147.25A96.3,96.3 0 0 0 271.23,146.86ZM297.69,143.03A122.6,122.6 0 0 1 297.78,143.34L272.67,151.14A96.3,96.3 0 0 0 272.59,150.90ZM297.57,142.65A122.6,122.6 0 0 1 297.70,143.06L272.60,150.92A96.3,96.3 0 0 0 272.50,150.60ZM301.37,158.04A122.6,122.6 0 0 1 301.43,158.36L275.53,162.94A96.3,96.3 0 0 0 275.49,162.69ZM302.07,162.37A122.6,122.6 0 0 1 302.13,162.79L276.08,166.42A96.3,96.3 0 0 0 276.03,166.09ZM301.83,160.77A122.6,122.6 0 0 1 301.88,161.09L275.88,165.08A96.3,96.3 0 0 0 275.85,164.83ZM301.90,161.22A122.6,122.6 0 0 1 301.95,161.53L275.94,165.43A96.3,96.3 0 0 0 275.90,165.18ZM301.37,158.06A122.6,122.6 0 0 1 301.45,158.48L275.55,163.03A96.3,96.3 0 0 0 275.49,162.70ZM301.96,161.66A122.6,122.6 0 0 1 302.04,162.19L276.01,165.94A96.3,96.3 0 0 0 275.95,165.53ZM300.41,153.24A122.6,122.6 0 0 1 300.48,153.55L274.78,159.16A96.3,96.3 0 0 0 274.73,158.91ZM302.82,168.84A122.6,122.6 0 0 1 302.86,169.38L276.66,171.59A96.3,96.3 0 0 0 276.62,171.17ZM303.30,180.23A122.6,122.6 0 0 1 303.30,180.55L277.00,180.37A96.3,96.3 0 0 0 277.00,180.12ZM303.26,176.52A122.6,122.6 0 0 1 303.27,176.94L276.98,177.54A96.3,96.3 0 0 0 276.97,177.20ZM303.30,179.28A122.6,122.6 0 0 1 303.30,179.82L277.00,179.79A96.3,96.3 0 0 0 277.00,179.37ZM302.72,167.80A122.6,122.6 0 0 1 302.75,168.12L276.57,170.60A96.3,96.3 0 0 0 276.55,170.35ZM302.76,168.16A122.6,122.6 0 0 1 302.79,168.48L276.60,170.89A96.3,96.3 0 0 0 276.57,170.64ZM303.17,174.00A122.6,122.6 0 0 1 303.19,174.42L276.91,175.56A96.3,96.3 0 0 0 276.90,175.22ZM302.92,169.99A122.6,122.6 0 0 1 302.96,170.53L276.73,172.50A96.3,96.3 0 0 0 276.70,172.08ZM302.87,189.92A122.6,122.6 0 0 1 302.84,190.35L276.64,188.07A96.3,96.3 0 0 0 276.66,187.73ZM302.27,195.52A122.6,122.6 0 0 1 302.20,196.05L276.14,192.55A96.3,96.3 0 0 0 276.19,192.13ZM302.76,191.17A122.6,122.6 0 0 1 302.71,191.71L276.54,189.13A96.3,96.3 0 0 0 276.58,188.71ZM303.08,187.03A122.6,122.6 0 0 1 303.05,187.57L276.80,185.88A96.3,96.3 0 0 0 276.83,185.46ZM301.98,197.63A122.6,122.6 0 0 1 301.93,197.95L275.93,194.03A96.3,96.3 0 0 0 275.96,193.78ZM303.04,187.73A122.6,122.6 0 0 1 303.00,188.26L276.76,186.43A96.3,96.3 0 0 0 276.79,186.01ZM302.54,193.30A122.6,122.6 0 0 1 302.48,193.83L276.36,190.80A96.3,96.3 0 0 0 276.41,190.38ZM299.37,210.49A122.6,122.6 0 0 1 299.26,210.90L273.83,204.21A96.3,96.3 0 0 0 273.91,203.88ZM300.72,204.72A122.6,122.6 0 0 1 300.65,205.04L274.92,199.60A96.3,96.3 0 0 0 274.97,199.35ZM298.84,212.47A122.6,122.6 0 0 1 298.75,212.78L273.43,205.69A96.3,96.3 0 0 0 273.50,205.44ZM300.56,205.50A122.6,122.6 0 0 1 300.46,205.91L274.77,200.29A96.3,96.3 0 0 0 274.84,199.96ZM300.61,205.25A122.6,122.6 0 0 1 300.54,205.57L274.83,200.02A96.3,96.3 0 0 0 274.88,199.77ZM300.84,204.14A122.6,122.6 0 0 1 300.75,204.56L275.00,199.23A96.3,96.3 0 0 0 275.07,198.90ZM299.66,209.34A122.6,122.6 0 0 1 299.59,209.65L274.08,203.23A96.3,96.3 0 0 0 274.14,202.98ZM301.07,202.97A122.6,122.6 0 0 1 301.01,203.28L275.20,198.22A96.3,96.3 0 0 0 275.25,197.98ZM291.25,232.70A122.6,122.6 0 0 1 291.07,233.08L267.39,221.63A96.3,96.3 0 0 0 267.54,221.33ZM292.84,229.26A122.6,122.6 0 0 1 292.62,229.75L268.61,219.01A96.3,96.3 0 0 0 268.78,218.63ZM293.65,227.38A122.6,122.6 0 0 1 293.52,227.68L269.32,217.39A96.3,96.3 0 0 0 269.42,217.15ZM293.22,228.38A122.6,122.6 0 0 1 293.09,228.67L268.98,218.17A96.3,96.3 0 0 0 269.08,217.94ZM293.96,226.64A122.6,122.6 0 0 1 293.79,227.04L269.53,216.88A96.3,96.3 0 0 0 269.66,216.57ZM292.51,230.00A122.6,122.6 0 0 1 292.37,230.29L268.42,219.44A96.3,96.3 0 0 0 268.52,219.21ZM296.54,219.83A122.6,122.6 0 0 1 296.37,220.34L271.56,211.62A96.3,96.3 0 0 0 271.69,211.22ZM296.23,220.74A122.6,122.6 0 0 1 296.12,221.04L271.36,212.17A96.3,96.3 0 0 0 271.44,211.94ZM283.31,246.79A122.6,122.6 0 0 1 283.08,247.15L261.12,232.68A96.3,96.3 0 0 0 261.30,232.40ZM287.79,239.39A122.6,122.6 0 0 1 287.63,239.67L264.69,226.81A96.3,96.3 0 0 0 264.82,226.59ZM288.27,238.51A122.6,122.6 0 0 1 288.02,238.98L264.99,226.26A96.3,96.3 0 0 0 265.20,225.89ZM286.10,242.33A122.6,122.6 0 0 1 285.93,242.60L263.36,229.11A96.3,96.3 0 0 0 263.49,228.89ZM281.96,248.82A122.6,122.6 0 0 1 281.66,249.26L260.00,234.34A96.3,96.3 0 0 0 260.24,233.99ZM283.23,246.92A122.6,122.6 0 0 1 283.05,247.19L261.10,232.71A96.3,96.3 0 0 0 261.23,232.50ZM282.81,247.56A122.6,122.6 0 0 1 282.57,247.92L260.72,233.28A96.3,96.3 0 0 0 260.90,233.00ZM286.27,242.03A122.6,122.6 0 0 1 286.00,242.49L263.41,229.02A96.3,96.3 0 0 0 263.62,228.66ZM273.84,259.42A122.6,122.6 0 0 1 273.63,259.67L253.69,242.51A96.3,96.3 0 0 0 253.86,242.32ZM269.34,264.40A122.6,122.6 0 0 1 269.04,264.71L250.09,246.47A96.3,96.3 0 0 0 250.32,246.23ZM268.43,265.34A122.6,122.6 0 0 1 268.21,265.57L249.44,247.15A96.3,96.3 0 0 0 249.61,246.97ZM269.46,264.27A122.6,122.6 0 0 1 269.09,264.66L250.13,246.43A96.3,96.3 0 0 0 250.42,246.13ZM278.79,253.25A122.6,122.6 0 0 1 278.46,253.68L257.49,237.81A96.3,96.3 0 0 0 257.74,237.47ZM274.91,258.16A122.6,122.6 0 0 1 274.56,258.57L254.43,241.65A96.3,96.3 0 0 0 254.70,241.33ZM278.74,253.31A122.6,122.6 0 0 1 278.55,253.57L257.56,237.72A96.3,96.3 0 0 0 257.71,237.52ZM278.11,254.14A122.6,122.6 0 0 1 277.79,254.57L256.96,238.51A96.3,96.3 0 0 0 257.21,238.17ZM277.71,254.66A122.6,122.6 0 0 1 277.45,255.00L256.70,238.85A96.3,96.3 0 0 0 256.90,238.58ZM255.22,277.05A122.6,122.6 0 0 1 254.80,277.37L238.90,256.42A96.3,96.3 0 0 0 239.24,256.17ZM261.54,271.87A122.6,122.6 0 0 1 261.14,272.22L243.89,252.37A96.3,96.3 0 0 0 244.20,252.10ZM257.36,275.38A122.6,122.6 0 0 1 257.02,275.65L240.65,255.06A96.3,96.3 0 0 0 240.91,254.85ZM260.30,272.94A122.6,122.6 0 0 1 259.90,273.29L242.91,253.21A96.3,96.3 0 0 0 243.23,252.94ZM264.26,269.41A122.6,122.6 0 0 1 263.87,269.77L246.03,250.45A96.3,96.3 0 0 0 246.34,250.17ZM264.85,268.86A122.6,122.6 0 0 1 264.46,269.23L246.49,250.02A96.3,96.3 0 0 0 246.80,249.73ZM264.14,269.52A122.6,122.6 0 0 1 263.91,269.74L246.06,250.43A96.3,96.3 0 0 0 246.24,250.26ZM262.66,270.88A122.6,122.6 0 0 1 262.26,271.24L244.76,251.60A96.3,96.3 0 0 0 245.07,251.32ZM249.37,281.26A122.6,122.6 0 0 1 248.93,281.56L234.29,259.71A96.3,96.3 0 0 0 234.64,259.47ZM242.44,285.62A122.6,122.6 0 0 1 242.07,285.84L228.90,263.07A96.3,96.3 0 0 0 229.19,262.90ZM247.51,282.50A122.6,122.6 0 0 1 247.24,282.67L232.97,260.58A96.3,96.3 0 0 0 233.18,260.44ZM246.11,283.39A122.6,122.6 0 0 1 245.84,283.57L231.86,261.28A96.3,96.3 0 0 0 232.08,261.15ZM242.16,285.78A122.6,122.6 0 0 1 241.88,285.94L228.76,263.15A96.3,96.3 0 0 0 228.98,263.03ZM244.25,284.54A122.6,122.6 0 0 1 243.88,284.76L230.33,262.23A96.3,96.3 0 0 0 230.62,262.05ZM242.44,285.62A122.6,122.6 0 0 1 242.07,285.83L228.91,263.07A96.3,96.3 0 0 0 229.20,262.90ZM244.46,284.42A122.6,122.6 0 0 1 244.19,284.58L230.57,262.08A96.3,96.3 0 0 0 230.78,261.95ZM229.62,292.12A122.6,122.6 0 0 1 229.13,292.33L218.74,268.17A96.3,96.3 0 0 0 219.13,268.00ZM230.83,291.58A122.6,122.6 0 0 1 230.34,291.80L219.69,267.75A96.3,96.3 0 0 0 220.07,267.58ZM227.88,292.86A122.6,122.6 0 0 1 227.58,292.98L217.52,268.68A96.3,96.3 0 0 0 217.76,268.58ZM220.69,295.59A122.6,122.6 0 0 1 220.29,295.73L211.80,270.84A96.3,96.3 0 0 0 212.11,270.73ZM231.26,291.39A122.6,122.6 0 0 1 230.87,291.56L220.11,267.57A96.3,96.3 0 0 0 220.42,267.43ZM231.37,291.34A122.6,122.6 0 0 1 231.07,291.47L220.27,267.50A96.3,96.3 0 0 0 220.50,267.39ZM226.83,293.29A122.6,122.6 0 0 1 226.53,293.41L216.70,269.02A96.3,96.3 0 0 0 216.94,268.92ZM223.43,294.61A122.6,122.6 0 0 1 223.03,294.76L213.95,270.08A96.3,96.3 0 0 0 214.27,269.96ZM221.59,295.28A122.6,122.6 0 0 1 221.29,295.39L212.58,270.57A96.3,96.3 0 0 0 212.82,270.49ZM207.08,299.43A122.6,122.6 0 0 1 206.66,299.52L201.09,273.82A96.3,96.3 0 0 0 201.42,273.74ZM198.43,301.01A122.6,122.6 0 0 1 198.01,301.07L194.30,275.04A96.3,96.3 0 0 0 194.63,274.99ZM208.36,299.14A122.6,122.6 0 0 1 207.84,299.26L202.02,273.61A96.3,96.3 0 0 0 202.43,273.52ZM206.30,299.60A122.6,122.6 0 0 1 205.88,299.69L200.48,273.95A96.3,96.3 0 0 0 200.81,273.88ZM202.31,300.38A122.6,122.6 0 0 1 201.79,300.47L197.26,274.56A96.3,96.3 0 0 0 197.68,274.49ZM207.00,299.45A122.6,122.6 0 0 1 206.68,299.51L201.11,273.81A96.3,96.3 0 0 0 201.36,273.76ZM200.21,300.74A122.6,122.6 0 0 1 199.79,300.81L195.69,274.83A96.3,96.3 0 0 0 196.02,274.77ZM199.35,300.87A122.6,122.6 0 0 1 199.03,300.92L195.10,274.92A96.3,96.3 0 0 0 195.35,274.88ZM202.95,300.26A122.6,122.6 0 0 1 202.53,300.34L197.85,274.46A96.3,96.3 0 0 0 198.18,274.40ZM204.91,299.89A122.6,122.6 0 0 1 204.49,299.97L199.39,274.17A96.3,96.3 0 0 0 199.72,274.10ZM183.50,302.27A122.6,122.6 0 0 1 182.96,302.28L182.48,275.98A96.3,96.3 0 0 0 182.90,275.97ZM193.01,301.68A122.6,122.6 0 0 1 192.69,301.71L190.12,275.54A96.3,96.3 0 0 0 190.37,275.51ZM187.12,302.13A122.6,122.6 0 0 1 186.80,302.15L185.49,275.88A96.3,96.3 0 0 0 185.74,275.87ZM192.98,301.68A122.6,122.6 0 0 1 192.55,301.73L190.01,275.55A96.3,96.3 0 0 0 190.35,275.52ZM189.68,301.97A122.6,122.6 0 0 1 189.36,301.99L187.51,275.76A96.3,96.3 0 0 0 187.76,275.74ZM181.24,302.30A122.6,122.6 0 0 1 180.71,302.30L180.70,276.00A96.3,96.3 0 0 0 181.12,276.00ZM191.55,301.82A122.6,122.6 0 0 1 191.23,301.85L188.97,275.64A96.3,96.3 0 0 0 189.22,275.62ZM183.79,302.26A122.6,122.6 0 0 1 183.26,302.27L182.71,275.98A96.3,96.3 0 0 0 183.13,275.97ZM159.99,300.54A122.6,122.6 0 0 1 159.57,300.46L164.10,274.56A96.3,96.3 0 0 0 164.43,274.62ZM152.99,299.13A122.6,122.6 0 0 1 152.47,299.01L158.53,273.41A96.3,96.3 0 0 0 158.94,273.51ZM169.88,301.82A122.6,122.6 0 0 1 169.45,301.78L171.86,275.59A96.3,96.3 0 0 0 172.20,275.62ZM168.63,301.70A122.6,122.6 0 0 1 168.09,301.65L170.80,275.49A96.3,96.3 0 0 0 171.22,275.53ZM174.09,302.12A122.6,122.6 0 0 1 173.67,302.10L175.18,275.84A96.3,96.3 0 0 0 175.51,275.86ZM162.28,300.91A122.6,122.6 0 0 1 161.96,300.86L165.98,274.87A96.3,96.3 0 0 0 166.23,274.91ZM170.30,301.86A122.6,122.6 0 0 1 169.88,301.82L172.20,275.62A96.3,96.3 0 0 0 172.53,275.65ZM156.96,299.98A122.6,122.6 0 0 1 156.44,299.88L161.64,274.10A96.3,96.3 0 0 0 162.05,274.18ZM158.76,300.32A122.6,122.6 0 0 1 158.24,300.22L163.06,274.37A96.3,96.3 0 0 0 163.47,274.45ZM163.05,301.02A122.6,122.6 0 0 1 162.73,300.98L166.58,274.96A96.3,96.3 0 0 0 166.83,275.00ZM165.54,301.36A122.6,122.6 0 0 1 165.01,301.29L168.38,275.21A96.3,96.3 0 0 0 168.79,275.26ZM154.04,299.37A122.6,122.6 0 0 1 153.72,299.30L159.51,273.64A96.3,96.3 0 0 0 159.76,273.70ZM138.37,294.76A122.6,122.6 0 0 1 137.87,294.58L147.06,269.93A96.3,96.3 0 0 0 147.45,270.08ZM138.87,294.94A122.6,122.6 0 0 1 138.47,294.80L147.53,270.11A96.3,96.3 0 0 0 147.84,270.22ZM137.33,294.37A122.6,122.6 0 0 1 136.83,294.18L146.24,269.62A96.3,96.3 0 0 0 146.64,269.77ZM126.97,289.90A122.6,122.6 0 0 1 126.68,289.76L138.27,266.15A96.3,96.3 0 0 0 138.50,266.26ZM139.19,295.06A122.6,122.6 0 0 1 138.69,294.88L147.70,270.17A96.3,96.3 0 0 0 148.09,270.31ZM132.57,292.46A122.6,122.6 0 0 1 132.08,292.25L142.51,268.10A96.3,96.3 0 0 0 142.90,268.27ZM129.13,290.93A122.6,122.6 0 0 1 128.74,290.74L139.89,266.92A96.3,96.3 0 0 0 140.19,267.07ZM137.09,294.28A122.6,122.6 0 0 1 136.59,294.09L146.05,269.55A96.3,96.3 0 0 0 146.44,269.70ZM124.78,288.80A122.6,122.6 0 0 1 124.49,288.66L136.55,265.28A96.3,96.3 0 0 0 136.78,265.40ZM130.93,291.74A122.6,122.6 0 0 1 130.44,291.53L141.23,267.54A96.3,96.3 0 0 0 141.61,267.71ZM126.12,289.48A122.6,122.6 0 0 1 125.83,289.34L137.60,265.82A96.3,96.3 0 0 0 137.83,265.93ZM143.13,296.40A122.6,122.6 0 0 1 142.72,296.27L150.87,271.26A96.3,96.3 0 0 0 151.19,271.37ZM124.87,288.85A122.6,122.6 0 0 1 124.49,288.65L136.55,265.28A96.3,96.3 0 0 0 136.85,265.44ZM135.28,293.58A122.6,122.6 0 0 1 134.88,293.42L144.71,269.02A96.3,96.3 0 0 0 145.02,269.15ZM115.36,283.44A122.6,122.6 0 0 1 114.91,283.15L129.02,260.96A96.3,96.3 0 0 0 129.38,261.18ZM102.90,274.45A122.6,122.6 0 0 1 102.57,274.18L119.33,253.91A96.3,96.3 0 0 0 119.59,254.13ZM110.06,279.90A122.6,122.6 0 0 1 109.80,279.72L125.01,258.26A96.3,96.3 0 0 0 125.21,258.41ZM111.50,280.90A122.6,122.6 0 0 1 111.06,280.60L126.00,258.96A96.3,96.3 0 0 0 126.35,259.19ZM111.87,281.16A122.6,122.6 0 0 1 111.52,280.92L126.36,259.20A96.3,96.3 0 0 0 126.64,259.39ZM110.43,280.16A122.6,122.6 0 0 1 110.16,279.98L125.29,258.46A96.3,96.3 0 0 0 125.50,258.61ZM116.22,283.98A122.6,122.6 0 0 1 115.95,283.81L129.84,261.47A96.3,96.3 0 0 0 130.05,261.61ZM111.67,281.02A122.6,122.6 0 0 1 111.40,280.84L126.27,259.14A96.3,96.3 0 0 0 126.48,259.28ZM117.27,284.61A122.6,122.6 0 0 1 116.90,284.39L130.59,261.93A96.3,96.3 0 0 0 130.87,262.11ZM106.28,277.13A122.6,122.6 0 0 1 106.03,276.93L122.05,256.08A96.3,96.3 0 0 0 122.25,256.23ZM110.87,280.47A122.6,122.6 0 0 1 110.43,280.16L125.51,258.61A96.3,96.3 0 0 0 125.85,258.85ZM102.06,273.75A122.6,122.6 0 0 1 101.65,273.41L118.60,253.31A96.3,96.3 0 0 0 118.93,253.58ZM103.26,274.75A122.6,122.6 0 0 1 102.85,274.41L119.55,254.09A96.3,96.3 0 0 0 119.87,254.36ZM111.47,280.88A122.6,122.6 0 0 1 111.12,280.64L126.05,258.99A96.3,96.3 0 0 0 126.32,259.18ZM86.54,258.22A122.6,122.6 0 0 1 86.20,257.81L106.47,241.05A96.3,96.3 0 0 0 106.74,241.38ZM95.55,267.91A122.6,122.6 0 0 1 95.32,267.69L113.64,248.81A96.3,96.3 0 0 0 113.82,248.99ZM89.01,261.08A122.6,122.6 0 0 1 88.65,260.68L108.40,243.31A96.3,96.3 0 0 0 108.68,243.63ZM91.74,264.06A122.6,122.6 0 0 1 91.37,263.67L110.53,245.66A96.3,96.3 0 0 0 110.82,245.96ZM86.78,258.50A122.6,122.6 0 0 1 86.57,258.25L106.76,241.40A96.3,96.3 0 0 0 106.93,241.60ZM87.53,259.38A122.6,122.6 0 0 1 87.18,258.97L107.24,241.97A96.3,96.3 0 0 0 107.51,242.29ZM92.37,264.72A122.6,122.6 0 0 1 92.00,264.33L111.03,246.18A96.3,96.3 0 0 0 111.32,246.48ZM90.06,262.26A122.6,122.6 0 0 1 89.70,261.86L109.22,244.23A96.3,96.3 0 0 0 109.50,244.55ZM93.20,265.58A122.6,122.6 0 0 1 92.98,265.35L111.80,246.98A96.3,96.3 0 0 0 111.97,247.16ZM80.15,249.84A122.6,122.6 0 0 1 79.84,249.40L101.48,234.45A96.3,96.3 0 0 0 101.72,234.80ZM92.02,264.36A122.6,122.6 0 0 1 91.73,264.05L110.81,245.95A96.3,96.3 0 0 0 111.05,246.20ZM93.42,265.80A122.6,122.6 0 0 1 93.04,265.41L111.85,247.03A96.3,96.3 0 0 0 112.14,247.33ZM95.00,267.38A122.6,122.6 0 0 1 94.78,267.15L113.21,248.39A96.3,96.3 0 0 0 113.39,248.57ZM86.02,257.59A122.6,122.6 0 0 1 85.82,257.34L106.17,240.69A96.3,96.3 0 0 0 106.33,240.88ZM87.18,258.98A122.6,122.6 0 0 1 86.98,258.74L107.08,241.78A96.3,96.3 0 0 0 107.24,241.97ZM70.12,232.63A122.6,122.6 0 0 1 69.93,232.25L93.69,220.97A96.3,96.3 0 0 0 93.84,221.28ZM69.78,231.93A122.6,122.6 0 0 1 69.56,231.45L93.40,220.35A96.3,96.3 0 0 0 93.58,220.73ZM75.62,242.86A122.6,122.6 0 0 1 75.46,242.59L98.03,229.10A96.3,96.3 0 0 0 98.16,229.31ZM67.95,227.86A122.6,122.6 0 0 1 67.83,227.56L92.04,217.30A96.3,96.3 0 0 0 92.14,217.53ZM65.37,221.30A122.6,122.6 0 0 1 65.23,220.89L90.00,212.06A96.3,96.3 0 0 0 90.11,212.37ZM71.46,235.35A122.6,122.6 0 0 1 71.26,234.97L94.74,223.11A96.3,96.3 0 0 0 94.89,223.41ZM73.47,239.13A122.6,122.6 0 0 1 73.26,238.76L96.31,226.09A96.3,96.3 0 0 0 96.47,226.38ZM70.41,233.25A122.6,122.6 0 0 1 70.22,232.86L93.92,221.46A96.3,96.3 0 0 0 94.07,221.76ZM71.19,234.82A122.6,122.6 0 0 1 71.00,234.44L94.53,222.70A96.3,96.3 0 0 0 94.68,223.00ZM69.98,232.34A122.6,122.6 0 0 1 69.84,232.05L93.62,220.82A96.3,96.3 0 0 0 93.73,221.05ZM74.63,241.18A122.6,122.6 0 0 1 74.36,240.72L97.17,227.63A96.3,96.3 0 0 0 97.38,227.99ZM77.09,245.24A122.6,122.6 0 0 1 76.86,244.88L99.14,230.90A96.3,96.3 0 0 0 99.32,231.18ZM75.51,242.67A122.6,122.6 0 0 1 75.34,242.40L97.95,228.95A96.3,96.3 0 0 0 98.07,229.16ZM76.96,245.04A122.6,122.6 0 0 1 76.79,244.77L99.08,230.81A96.3,96.3 0 0 0 99.22,231.03ZM74.10,240.26A122.6,122.6 0 0 1 73.84,239.80L96.76,226.90A96.3,96.3 0 0 0 96.97,227.27ZM73.28,238.79A122.6,122.6 0 0 1 73.02,238.32L96.12,225.75A96.3,96.3 0 0 0 96.32,226.12ZM60.51,203.88A122.6,122.6 0 0 1 60.40,203.36L86.21,198.28A96.3,96.3 0 0 0 86.29,198.69ZM59.62,198.92A122.6,122.6 0 0 1 59.55,198.50L85.54,194.46A96.3,96.3 0 0 0 85.59,194.80ZM58.61,190.86A122.6,122.6 0 0 1 58.58,190.54L84.78,188.22A96.3,96.3 0 0 0 84.80,188.47ZM58.30,186.77A122.6,122.6 0 0 1 58.27,186.24L84.54,184.83A96.3,96.3 0 0 0 84.56,185.25ZM61.26,207.34A122.6,122.6 0 0 1 61.18,207.03L86.82,201.16A96.3,96.3 0 0 0 86.88,201.41ZM58.71,191.94A122.6,122.6 0 0 1 58.67,191.51L84.85,188.98A96.3,96.3 0 0 0 84.88,189.31ZM63.32,215.08A122.6,122.6 0 0 1 63.16,214.57L88.38,207.09A96.3,96.3 0 0 0 88.50,207.49ZM60.13,201.90A122.6,122.6 0 0 1 60.03,201.37L85.92,196.72A96.3,96.3 0 0 0 85.99,197.14ZM59.05,194.95A122.6,122.6 0 0 1 58.99,194.41L85.10,191.26A96.3,96.3 0 0 0 85.15,191.68ZM61.65,209.01A122.6,122.6 0 0 1 61.53,208.49L87.09,202.31A96.3,96.3 0 0 0 87.19,202.72ZM59.42,197.66A122.6,122.6 0 0 1 59.38,197.34L85.40,193.56A96.3,96.3 0 0 0 85.44,193.81ZM59.46,197.91A122.6,122.6 0 0 1 59.38,197.38L85.41,193.59A96.3,96.3 0 0 0 85.47,194.01ZM59.06,194.98A122.6,122.6 0 0 1 59.02,194.66L85.12,191.45A96.3,96.3 0 0 0 85.15,191.70ZM61.42,208.05A122.6,122.6 0 0 1 61.30,207.53L86.91,201.56A96.3,96.3 0 0 0 87.01,201.97ZM58.99,194.48A122.6,122.6 0 0 1 58.94,194.05L85.06,190.97A96.3,96.3 0 0 0 85.10,191.31ZM58.21,184.95A122.6,122.6 0 0 1 58.20,184.53L84.47,183.49A96.3,96.3 0 0 0 84.49,183.83ZM59.09,195.28A122.6,122.6 0 0 1 59.05,194.96L85.15,191.68A96.3,96.3 0 0 0 85.18,191.93ZM61.52,208.44A122.6,122.6 0 0 1 61.44,208.12L87.02,202.03A96.3,96.3 0 0 0 87.08,202.27ZM58.23,185.43A122.6,122.6 0 0 1 58.22,185.11L84.49,183.95A96.3,96.3 0 0 0 84.51,184.20ZM62.73,146.34A122.6,122.6 0 0 1 62.81,146.03L88.10,153.25A96.3,96.3 0 0 0 88.03,153.50ZM61.26,152.03A122.6,122.6 0 0 1 61.36,151.61L86.96,157.64A96.3,96.3 0 0 0 86.89,157.96ZM59.11,163.97A122.6,122.6 0 0 1 59.17,163.54L85.24,167.01A96.3,96.3 0 0 0 85.20,167.34ZM62.18,148.35A122.6,122.6 0 0 1 62.29,147.94L87.69,154.75A96.3,96.3 0 0 0 87.60,155.08ZM59.94,158.52A122.6,122.6 0 0 1 60.04,157.99L85.92,162.65A96.3,96.3 0 0 0 85.85,163.06ZM58.27,173.31A122.6,122.6 0 0 1 58.29,172.89L84.55,174.35A96.3,96.3 0 0 0 84.53,174.68ZM60.53,155.43A122.6,122.6 0 0 1 60.59,155.11L86.36,160.39A96.3,96.3 0 0 0 86.31,160.63ZM58.21,174.44A122.6,122.6 0 0 1 58.24,173.91L84.51,175.15A96.3,96.3 0 0 0 84.49,175.57ZM60.92,153.57A122.6,122.6 0 0 1 61.01,153.15L86.68,158.85A96.3,96.3 0 0 0 86.61,159.18ZM58.24,173.75A122.6,122.6 0 0 1 58.27,173.21L84.53,174.60A96.3,96.3 0 0 0 84.51,175.02ZM60.56,155.25A122.6,122.6 0 0 1 60.65,154.83L86.40,160.16A96.3,96.3 0 0 0 86.34,160.49ZM59.70,159.95A122.6,122.6 0 0 1 59.79,159.42L85.73,163.77A96.3,96.3 0 0 0 85.66,164.18ZM62.20,148.27A122.6,122.6 0 0 1 62.28,147.96L87.68,154.77A96.3,96.3 0 0 0 87.62,155.02ZM59.60,160.57A122.6,122.6 0 0 1 59.65,160.26L85.62,164.43A96.3,96.3 0 0 0 85.58,164.68ZM58.14,176.54A122.6,122.6 0 0 1 58.16,176.01L84.44,176.80A96.3,96.3 0 0 0 84.43,177.22ZM60.40,156.05A122.6,122.6 0 0 1 60.51,155.52L86.29,160.71A96.3,96.3 0 0 0 86.21,161.12ZM59.60,160.60A122.6,122.6 0 0 1 59.65,160.29L85.62,164.45A96.3,96.3 0 0 0 85.58,164.70ZM58.40,171.17A122.6,122.6 0 0 1 58.42,170.85L84.65,172.75A96.3,96.3 0 0 0 84.63,173.00ZM58.37,171.60A122.6,122.6 0 0 1 58.39,171.28L84.63,173.08A96.3,96.3 0 0 0 84.61,173.34ZM63.73,142.96A122.6,122.6 0 0 1 63.90,142.45L88.95,150.44A96.3,96.3 0 0 0 88.83,150.84ZM66.18,135.93A122.6,122.6 0 0 1 66.30,135.63L90.84,145.08A96.3,96.3 0 0 0 90.75,145.32ZM66.63,134.78A122.6,122.6 0 0 1 66.82,134.28L91.25,144.02A96.3,96.3 0 0 0 91.10,144.41ZM71.24,124.48A122.6,122.6 0 0 1 71.39,124.19L94.84,136.10A96.3,96.3 0 0 0 94.72,136.33ZM69.22,128.69A122.6,122.6 0 0 1 69.40,128.30L93.27,139.33A96.3,96.3 0 0 0 93.13,139.63ZM70.67,125.62A122.6,122.6 0 0 1 70.86,125.23L94.43,136.92A96.3,96.3 0 0 0 94.28,137.22ZM70.71,125.55A122.6,122.6 0 0 1 70.94,125.07L94.49,136.79A96.3,96.3 0 0 0 94.30,137.17ZM69.86,127.30A122.6,122.6 0 0 1 70.09,126.82L93.82,138.16A96.3,96.3 0 0 0 93.64,138.54ZM75.15,117.33A122.6,122.6 0 0 1 75.32,117.05L97.92,130.49A96.3,96.3 0 0 0 97.79,130.71ZM67.24,133.25A122.6,122.6 0 0 1 67.40,132.85L91.71,142.90A96.3,96.3 0 0 0 91.58,143.21ZM69.69,127.67A122.6,122.6 0 0 1 69.87,127.29L93.64,138.53A96.3,96.3 0 0 0 93.50,138.83ZM70.38,126.22A122.6,122.6 0 0 1 70.52,125.93L94.16,137.46A96.3,96.3 0 0 0 94.05,137.69ZM73.52,120.17A122.6,122.6 0 0 1 73.68,119.89L96.64,132.72A96.3,96.3 0 0 0 96.51,132.94ZM72.03,122.95A122.6,122.6 0 0 1 72.18,122.66L95.46,134.90A96.3,96.3 0 0 0 95.34,135.12ZM69.19,128.74A122.6,122.6 0 0 1 69.33,128.44L93.22,139.44A96.3,96.3 0 0 0 93.11,139.67ZM76.89,114.48A122.6,122.6 0 0 1 77.17,114.03L99.38,128.12A96.3,96.3 0 0 0 99.16,128.47ZM78.25,112.36A122.6,122.6 0 0 1 78.54,111.91L100.46,126.46A96.3,96.3 0 0 0 100.23,126.81ZM79.46,110.55A122.6,122.6 0 0 1 79.77,110.11L101.42,125.04A96.3,96.3 0 0 0 101.18,125.38ZM73.38,120.42A122.6,122.6 0 0 1 73.64,119.96L96.61,132.77A96.3,96.3 0 0 0 96.40,133.14ZM73.16,120.83A122.6,122.6 0 0 1 73.37,120.45L96.39,133.16A96.3,96.3 0 0 0 96.23,133.46ZM108.81,80.39A122.6,122.6 0 0 1 109.15,80.14L124.50,101.50A96.3,96.3 0 0 0 124.23,101.70ZM91.05,96.07A122.6,122.6 0 0 1 91.27,95.83L110.46,113.82A96.3,96.3 0 0 0 110.28,114.01ZM106.65,81.99A122.6,122.6 0 0 1 106.91,81.79L122.74,102.80A96.3,96.3 0 0 0 122.54,102.95ZM109.17,80.13A122.6,122.6 0 0 1 109.51,79.88L124.78,101.30A96.3,96.3 0 0 0 124.51,101.49ZM86.64,101.07A122.6,122.6 0 0 1 86.91,100.74L107.03,117.68A96.3,96.3 0 0 0 106.81,117.94ZM111.54,78.47A122.6,122.6 0 0 1 111.98,78.17L126.72,99.95A96.3,96.3 0 0 0 126.38,100.19ZM93.85,93.16A122.6,122.6 0 0 1 94.16,92.86L112.72,111.49A96.3,96.3 0 0 0 112.48,111.73ZM107.36,81.45A122.6,122.6 0 0 1 107.71,81.20L123.36,102.33A96.3,96.3 0 0 0 123.09,102.53ZM88.84,98.50A122.6,122.6 0 0 1 89.05,98.26L108.71,115.73A96.3,96.3 0 0 0 108.55,115.92ZM84.84,103.27A122.6,122.6 0 0 1 85.11,102.93L105.62,119.40A96.3,96.3 0 0 0 105.41,119.66ZM91.74,95.34A122.6,122.6 0 0 1 91.96,95.11L111.00,113.25A96.3,96.3 0 0 0 110.82,113.43ZM83.17,105.41A122.6,122.6 0 0 1 83.43,105.07L104.30,121.08A96.3,96.3 0 0 0 104.09,121.34ZM115.73,75.73A122.6,122.6 0 0 1 116.19,75.45L130.03,97.81A96.3,96.3 0 0 0 129.67,98.03ZM84.25,104.01A122.6,122.6 0 0 1 84.52,103.68L105.15,119.98A96.3,96.3 0 0 0 104.94,120.25ZM113.98,76.84A122.6,122.6 0 0 1 114.43,76.55L128.65,98.68A96.3,96.3 0 0 0 128.29,98.91ZM91.65,95.43A122.6,122.6 0 0 1 91.87,95.20L110.93,113.32A96.3,96.3 0 0 0 110.76,113.51ZM103.55,84.42A122.6,122.6 0 0 1 103.97,84.08L120.43,104.59A96.3,96.3 0 0 0 120.10,104.86ZM88.10,99.35A122.6,122.6 0 0 1 88.31,99.11L108.13,116.40A96.3,96.3 0 0 0 107.96,116.59ZM94.49,92.53A122.6,122.6 0 0 1 94.79,92.23L113.22,111.00A96.3,96.3 0 0 0 112.98,111.23ZM102.94,84.92A122.6,122.6 0 0 1 103.35,84.58L119.94,104.98A96.3,96.3 0 0 0 119.62,105.25ZM86.24,101.54A122.6,122.6 0 0 1 86.51,101.21L106.72,118.05A96.3,96.3 0 0 0 106.50,118.31ZM115.42,75.92A122.6,122.6 0 0 1 115.69,75.75L129.64,98.05A96.3,96.3 0 0 0 129.43,98.19ZM86.14,101.67A122.6,122.6 0 0 1 86.34,101.42L106.58,118.22A96.3,96.3 0 0 0 106.42,118.41ZM106.41,82.17A122.6,122.6 0 0 1 106.75,81.92L122.61,102.89A96.3,96.3 0 0 0 122.34,103.10ZM96.20,90.87A122.6,122.6 0 0 1 96.59,90.50L114.64,109.63A96.3,96.3 0 0 0 114.33,109.92ZM122.07,72.03A122.6,122.6 0 0 1 122.35,71.88L134.87,95.01A96.3,96.3 0 0 0 134.64,95.13ZM155.95,59.62A122.6,122.6 0 0 1 156.26,59.56L161.50,85.33A96.3,96.3 0 0 0 161.26,85.38ZM124.59,70.69A122.6,122.6 0 0 1 124.97,70.50L136.93,93.92A96.3,96.3 0 0 0 136.63,94.08ZM134.34,66.20A122.6,122.6 0 0 1 134.74,66.04L144.60,90.42A96.3,96.3 0 0 0 144.29,90.55ZM150.06,60.99A122.6,122.6 0 0 1 150.58,60.86L157.04,86.35A96.3,96.3 0 0 0 156.63,86.46ZM142.25,63.29A122.6,122.6 0 0 1 142.76,63.12L150.90,88.13A96.3,96.3 0 0 0 150.50,88.26ZM151.22,60.70A122.6,122.6 0 0 1 151.53,60.62L157.79,86.17A96.3,96.3 0 0 0 157.54,86.23ZM155.25,59.77A122.6,122.6 0 0 1 155.77,59.66L161.12,85.41A96.3,96.3 0 0 0 160.71,85.50ZM123.35,71.34A122.6,122.6 0 0 1 123.82,71.09L136.02,94.39A96.3,96.3 0 0 0 135.65,94.59ZM157.16,59.38A122.6,122.6 0 0 1 157.47,59.32L162.46,85.14A96.3,96.3 0 0 0 162.21,85.19ZM140.67,63.82A122.6,122.6 0 0 1 140.97,63.71L149.50,88.60A96.3,96.3 0 0 0 149.26,88.68ZM140.64,63.83A122.6,122.6 0 0 1 140.94,63.72L149.47,88.60A96.3,96.3 0 0 0 149.23,88.69ZM168.27,57.73A122.6,122.6 0 0 1 168.81,57.68L171.36,83.85A96.3,96.3 0 0 0 170.94,83.90ZM153.76,60.10A122.6,122.6 0 0 1 154.08,60.03L159.79,85.70A96.3,96.3 0 0 0 159.54,85.75ZM143.10,63.01A122.6,122.6 0 0 1 143.51,62.88L151.49,87.94A96.3,96.3 0 0 0 151.17,88.04ZM142.54,63.19A122.6,122.6 0 0 1 143.05,63.03L151.12,88.05A96.3,96.3 0 0 0 150.72,88.18ZM141.32,63.60A122.6,122.6 0 0 1 141.72,63.46L150.08,88.40A96.3,96.3 0 0 0 149.77,88.50ZM139.43,64.26A122.6,122.6 0 0 1 139.83,64.11L148.60,88.91A96.3,96.3 0 0 0 148.28,89.02ZM146.21,62.05A122.6,122.6 0 0 1 146.62,61.93L153.93,87.20A96.3,96.3 0 0 0 153.61,87.29ZM150.73,60.82A122.6,122.6 0 0 1 151.15,60.71L157.49,86.24A96.3,96.3 0 0 0 157.16,86.32ZM156.77,59.46A122.6,122.6 0 0 1 157.29,59.36L162.31,85.17A96.3,96.3 0 0 0 161.90,85.25ZM135.54,65.72A122.6,122.6 0 0 1 135.83,65.60L145.46,90.08A96.3,96.3 0 0 0 145.22,90.17ZM163.27,58.35A122.6,122.6 0 0 1 163.80,58.27L167.43,84.32A96.3,96.3 0 0 0 167.01,84.38ZM121.66,72.25A122.6,122.6 0 0 1 121.94,72.10L134.54,95.18A96.3,96.3 0 0 0 134.32,95.30ZM141.85,63.42A122.6,122.6 0 0 1 142.36,63.25L150.59,88.23A96.3,96.3 0 0 0 150.19,88.36ZM140.82,63.77A122.6,122.6 0 0 1 141.23,63.63L149.70,88.53A96.3,96.3 0 0 0 149.38,88.64ZM161.93,58.55A122.6,122.6 0 0 1 162.25,58.50L166.21,84.50A96.3,96.3 0 0 0 165.96,84.54ZM151.92,60.52A122.6,122.6 0 0 1 152.44,60.40L158.51,85.99A96.3,96.3 0 0 0 158.10,86.09ZM173.74,57.30A122.6,122.6 0 0 1 174.06,57.28L175.49,83.54A96.3,96.3 0 0 0 175.24,83.56ZM164.88,58.12A122.6,122.6 0 0 1 165.20,58.08L168.53,84.17A96.3,96.3 0 0 0 168.28,84.20ZM143.10,63.01A122.6,122.6 0 0 1 143.50,62.88L151.48,87.94A96.3,96.3 0 0 0 151.16,88.04ZM133.01,66.76A122.6,122.6 0 0 1 133.30,66.63L143.47,90.89A96.3,96.3 0 0 0 143.24,90.99ZM121.80,72.18A122.6,122.6 0 0 1 122.08,72.02L134.66,95.12A96.3,96.3 0 0 0 134.43,95.24Z"/>
<g font-size="4.3" fill="#2a2a2a" text-anchor="middle" dominant-baseline="central"><text x="184.58" y="4.54" transform="rotate(1.27 184.58 4.54)">CHR1</text><text x="197.84" y="5.34" transform="rotate(5.62 197.84 5.34)">CHR2</text><text x="213.35" y="7.57" transform="rotate(10.74 213.35 7.57)">CHR3</text><text x="230.78" y="11.81" transform="rotate(16.61 230.78 11.81)">CHR4</text><text x="248.59" y="18.19" transform="rotate(22.80 248.59 18.19)">CHR5</text><text x="266.84" y="27.14" transform="rotate(29.45 266.84 27.14)">CHR6</text><text x="285.40" y="39.23" transform="rotate(36.70 285.40 39.23)">CHR7</text><text x="300.74" y="52.09" transform="rotate(43.25 300.74 52.09)">CHR8</text><text x="314.52" y="66.62" transform="rotate(49.80 314.52 66.62)">CHR9</text><text x="328.30" y="85.31" transform="rotate(57.40 328.30 85.31)">CHR10</text><text x="339.61" y="105.93" transform="rotate(65.10 339.61 105.93)">CHR11</text><text x="347.37" y="125.71" transform="rotate(72.05 347.37 125.71)">CHR12</text><text x="352.77" y="146.72" transform="rotate(79.15 352.77 146.72)">CHR13</text><text x="355.71" y="171.60" transform="rotate(87.35 355.71 171.60)">CHR14</text><text x="355.08" y="196.64" transform="rotate(-84.45 355.08 196.64)">CHR15</text><text x="350.81" y="221.64" transform="rotate(-76.15 350.81 221.64)">CHR16</text><text x="342.21" y="247.59" transform="rotate(-67.20 342.21 247.59)">CHR17</text><text x="329.76" y="271.76" transform="rotate(-58.30 329.76 271.76)">CHR18</text><text x="313.23" y="294.29" transform="rotate(-49.15 313.23 294.29)">CHR19</text><text x="293.20" y="314.01" transform="rotate(-39.95 293.20 314.01)">CHR21</text><text x="271.59" y="329.48" transform="rotate(-31.25 271.59 329.48)">CHR22</text><text x="246.33" y="342.14" transform="rotate(-22.00 246.33 342.14)">CHR23</text><text x="216.83" y="351.13" transform="rotate(-11.90 216.83 351.13)">CHR24</text><text x="187.58" y="354.76" transform="rotate(-2.25 187.58 354.76)">CHR25</text><text x="155.26" y="353.04" transform="rotate(8.35 155.26 353.04)">CHR26</text><text x="116.77" y="342.82" transform="rotate(21.40 116.77 342.82)">CHR27</text><text x="79.71" y="322.86" transform="rotate(35.20 79.71 322.86)">CHR28</text><text x="47.87" y="293.95" transform="rotate(49.30 47.87 293.95)">CHR29</text><text x="22.83" y="255.68" transform="rotate(64.30 22.83 255.68)">CHR30</text><text x="7.61" y="206.81" transform="rotate(81.10 7.61 206.81)">CHR31</text><text x="7.83" y="151.24" transform="rotate(279.35 7.83 151.24)">CHR32</text><text x="25.23" y="98.94" transform="rotate(297.45 25.23 98.94)">CHR33</text><text x="62.90" y="50.01" transform="rotate(317.75 62.90 50.01)">CHR35</text><text x="133.10" y="11.09" transform="rotate(344.24 133.10 11.09)">CHR36</text></g>
<g font-size="8.2" font-weight="bold" fill="#2a2a2a" text-anchor="end"><text x="405.8" y="24.8" textLength="21.80" lengthAdjust="spacingAndGlyphs">CHR 1</text><text x="405.8" y="35.2" textLength="21.80" lengthAdjust="spacingAndGlyphs">CHR 2</text><text x="405.8" y="45.5" textLength="21.80" lengthAdjust="spacingAndGlyphs">CHR 3</text><text x="405.8" y="56.9" textLength="21.80" lengthAdjust="spacingAndGlyphs">CHR 4</text><text x="405.8" y="68.9" textLength="21.80" lengthAdjust="spacingAndGlyphs">CHR 5</text><text x="405.8" y="79.4" textLength="21.80" lengthAdjust="spacingAndGlyphs">CHR 6</text><text x="405.8" y="89.9" textLength="21.80" lengthAdjust="spacingAndGlyphs">CHR 7</text><text x="405.8" y="100.3" textLength="21.80" lengthAdjust="spacingAndGlyphs">CHR 8</text><text x="405.8" y="110.8" textLength="21.80" lengthAdjust="spacingAndGlyphs">CHR 9</text><text x="405.8" y="121.6" textLength="26.60" lengthAdjust="spacingAndGlyphs">CHR 10</text><text x="405.8" y="131.5" textLength="26.60" lengthAdjust="spacingAndGlyphs">CHR 11</text><text x="405.8" y="142.5" textLength="26.60" lengthAdjust="spacingAndGlyphs">CHR 12</text><text x="405.8" y="153.2" textLength="26.60" lengthAdjust="spacingAndGlyphs">CHR 13</text><text x="405.8" y="165.2" textLength="26.60" lengthAdjust="spacingAndGlyphs">CHR 14</text><text x="405.8" y="175.4" textLength="26.60" lengthAdjust="spacingAndGlyphs">CHR 15</text><text x="405.8" y="186.1" textLength="26.60" lengthAdjust="spacingAndGlyphs">CHR 16</text><text x="405.8" y="197.1" textLength="26.60" lengthAdjust="spacingAndGlyphs">CHR 17</text><text x="405.8" y="207.7" textLength="26.60" lengthAdjust="spacingAndGlyphs">CHR 18</text><text x="405.8" y="218.7" textLength="26.60" lengthAdjust="spacingAndGlyphs">CHR 19</text><text x="405.8" y="229.4" textLength="26.60" lengthAdjust="spacingAndGlyphs">CHR 21</text><text x="405.8" y="241.9" textLength="26.60" lengthAdjust="spacingAndGlyphs">CHR 22</text><text x="405.8" y="252.1" textLength="26.60" lengthAdjust="spacingAndGlyphs">CHR 23</text><text x="405.8" y="263.1" textLength="26.60" lengthAdjust="spacingAndGlyphs">CHR 24</text><text x="405.8" y="273.6" textLength="26.60" lengthAdjust="spacingAndGlyphs">CHR 25</text><text x="405.8" y="284.0" textLength="26.60" lengthAdjust="spacingAndGlyphs">CHR 26</text><text x="405.8" y="293.9" textLength="26.60" lengthAdjust="spacingAndGlyphs">CHR 27</text><text x="405.8" y="304.3" textLength="26.60" lengthAdjust="spacingAndGlyphs">CHR 28</text><text x="405.8" y="315.2" textLength="26.60" lengthAdjust="spacingAndGlyphs">CHR 29</text><text x="405.8" y="326.1" textLength="26.60" lengthAdjust="spacingAndGlyphs">CHR 30</text><text x="405.8" y="337.9" textLength="26.60" lengthAdjust="spacingAndGlyphs">CHR 31</text><text x="405.8" y="348.5" textLength="26.60" lengthAdjust="spacingAndGlyphs">CHR 32</text><text x="405.8" y="358.9" textLength="26.60" lengthAdjust="spacingAndGlyphs">CHR 33</text><text x="405.8" y="369.0" textLength="26.60" lengthAdjust="spacingAndGlyphs">CHR 35</text><text x="405.8" y="378.8" textLength="26.60" lengthAdjust="spacingAndGlyphs">CHR 36</text></g><rect x="410.8" y="18.8" width="25" height="6.2" rx="3.1" fill="#fcdfd3"/><rect x="446" y="18.8" width="25" height="6.2" rx="3.1" fill="#eaf3fc"/><rect x="410.8" y="29.2" width="25" height="6.2" rx="3.1" fill="#fcdfd3"/><rect x="446" y="29.2" width="25" height="6.2" rx="3.1" fill="#ecf4fc"/><rect x="410.8" y="39.5" width="25" height="6.2" rx="3.1" fill="#fcd5c6"/><rect x="446" y="39.5" width="25" height="6.2" rx="3.1" fill="#dde9f6"/><rect x="410.8" y="50.9" width="25" height="6.2" rx="3.1" fill="#fcdccf"/><rect x="446" y="50.9" width="25" height="6.2" rx="3.1" fill="#c3d8ee"/><rect x="410.8" y="62.9" width="25" height="6.2" rx="3.1" fill="#fde7de"/><rect x="446" y="62.9" width="25" height="6.2" rx="3.1" fill="#c6daef"/><rect x="410.8" y="73.4" width="25" height="6.2" rx="3.1" fill="#fde7de"/><rect x="446" y="73.4" width="25" height="6.2" rx="3.1" fill="#d6e5f4"/><rect x="410.8" y="83.9" width="25" height="6.2" rx="3.1" fill="#fde7de"/><rect x="446" y="83.9" width="25" height="6.2" rx="3.1" fill="#d3e2f3"/><rect x="410.8" y="94.3" width="25" height="6.2" rx="3.1" fill="#fde9e1"/><rect x="446" y="94.3" width="25" height="6.2" rx="3.1" fill="#e3edf8"/><rect x="410.8" y="104.8" width="25" height="6.2" rx="3.1" fill="#fcd5c6"/><rect x="446" y="104.8" width="25" height="6.2" rx="3.1" fill="#cddff1"/><rect x="410.8" y="115.6" width="25" height="6.2" rx="3.1" fill="#f8b199"/><rect x="446" y="115.6" width="25" height="6.2" rx="3.1" fill="#d3e3f3"/><rect x="410.8" y="125.5" width="25" height="6.2" rx="3.1" fill="#fcd5c6"/><rect x="446" y="125.5" width="25" height="6.2" rx="3.1" fill="#cde0f2"/><rect x="410.8" y="136.5" width="25" height="6.2" rx="3.1" fill="#fde8df"/><rect x="446" y="136.5" width="25" height="6.2" rx="3.1" fill="#dee9f6"/><rect x="410.8" y="147.2" width="25" height="6.2" rx="3.1" fill="#f59275"/><rect x="446" y="147.2" width="25" height="6.2" rx="3.1" fill="#cddff1"/><rect x="410.8" y="159.2" width="25" height="6.2" rx="3.1" fill="#f9bca5"/><rect x="446" y="159.2" width="25" height="6.2" rx="3.1" fill="#cfe0f2"/><rect x="410.8" y="169.4" width="25" height="6.2" rx="3.1" fill="#f8b39b"/><rect x="446" y="169.4" width="25" height="6.2" rx="3.1" fill="#cddff1"/><rect x="410.8" y="180.1" width="25" height="6.2" rx="3.1" fill="#f6a386"/><rect x="446" y="180.1" width="25" height="6.2" rx="3.1" fill="#d4e4f3"/><rect x="410.8" y="191.1" width="25" height="6.2" rx="3.1" fill="#f9bca5"/><rect x="446" y="191.1" width="25" height="6.2" rx="3.1" fill="#d3e3f3"/><rect x="410.8" y="201.7" width="25" height="6.2" rx="3.1" fill="#fac8b5"/><rect x="446" y="201.7" width="25" height="6.2" rx="3.1" fill="#cde0f2"/><rect x="410.8" y="212.7" width="25" height="6.2" rx="3.1" fill="#fde3d8"/><rect x="446" y="212.7" width="25" height="6.2" rx="3.1" fill="#d5e4f3"/><rect x="410.8" y="223.4" width="25" height="6.2" rx="3.1" fill="#f6a386"/><rect x="446" y="223.4" width="25" height="6.2" rx="3.1" fill="#c6dbef"/><rect x="410.8" y="235.9" width="25" height="6.2" rx="3.1" fill="#f8b49c"/><rect x="446" y="235.9" width="25" height="6.2" rx="3.1" fill="#c9dcef"/><rect x="410.8" y="246.1" width="25" height="6.2" rx="3.1" fill="#f9bca5"/><rect x="446" y="246.1" width="25" height="6.2" rx="3.1" fill="#c9dcef"/><rect x="410.8" y="257.1" width="25" height="6.2" rx="3.1" fill="#f59a7e"/><rect x="446" y="257.1" width="25" height="6.2" rx="3.1" fill="#c2d8ee"/><rect x="410.8" y="267.6" width="25" height="6.2" rx="3.1" fill="#f9bfa9"/><rect x="446" y="267.6" width="25" height="6.2" rx="3.1" fill="#d0e1f2"/><rect x="410.8" y="278.0" width="25" height="6.2" rx="3.1" fill="#f07a5c"/><rect x="446" y="278.0" width="25" height="6.2" rx="3.1" fill="#bcd6ec"/><rect x="410.8" y="287.9" width="25" height="6.2" rx="3.1" fill="#fde0d4"/><rect x="446" y="287.9" width="25" height="6.2" rx="3.1" fill="#7fb6db"/><rect x="410.8" y="298.3" width="25" height="6.2" rx="3.1" fill="#f2856a"/><rect x="446" y="298.3" width="25" height="6.2" rx="3.1" fill="#a6cbe5"/><rect x="410.8" y="309.2" width="25" height="6.2" rx="3.1" fill="#ee6b4f"/><rect x="446" y="309.2" width="25" height="6.2" rx="3.1" fill="#abcde6"/><rect x="410.8" y="320.1" width="25" height="6.2" rx="3.1" fill="#ea5639"/><rect x="446" y="320.1" width="25" height="6.2" rx="3.1" fill="#b0d0e8"/><rect x="410.8" y="331.9" width="25" height="6.2" rx="3.1" fill="#7c1419"/><rect x="446" y="331.9" width="25" height="6.2" rx="3.1" fill="#92c1e0"/><rect x="410.8" y="342.5" width="25" height="6.2" rx="3.1" fill="#dc2e26"/><rect x="446" y="342.5" width="25" height="6.2" rx="3.1" fill="#92c1e0"/><rect x="410.8" y="352.9" width="25" height="6.2" rx="3.1" fill="#f59579"/><rect x="446" y="352.9" width="25" height="6.2" rx="3.1" fill="#86bbde"/><rect x="410.8" y="363.0" width="25" height="6.2" rx="3.1" fill="#fddacd"/><rect x="446" y="363.0" width="25" height="6.2" rx="3.1" fill="#3f8cc8"/><rect x="410.8" y="372.8" width="25" height="6.2" rx="3.1" fill="#f59579"/><rect x="446" y="372.8" width="25" height="6.2" rx="3.1" fill="#0e4d97"/><rect x="486.8" y="19.60" width="7.4" height="11.50" fill="#fef2ec"/><rect x="486.8" y="30.80" width="7.4" height="11.40" fill="#fde1d4"/><rect x="486.8" y="41.90" width="7.4" height="11.50" fill="#fcc8b2"/><rect x="486.8" y="53.10" width="7.4" height="11.10" fill="#fcab90"/><rect x="486.8" y="63.90" width="7.4" height="11.10" fill="#fa8b6b"/><rect x="486.8" y="74.70" width="7.4" height="11.60" fill="#f46a4b"/><rect x="486.8" y="86.00" width="7.4" height="11.40" fill="#ee4633"/><rect x="486.8" y="97.10" width="7.4" height="11.10" fill="#de2624"/><rect x="486.8" y="107.90" width="7.4" height="11.50" fill="#c4191e"/><rect x="486.8" y="119.10" width="7.4" height="11.40" fill="#a11216"/><rect x="486.8" y="130.20" width="7.4" height="9.50" fill="#6c0810"/><rect x="486.2" y="163.80" width="7.6" height="10.30" fill="#f1f7fd"/><rect x="486.2" y="173.80" width="7.6" height="11.40" fill="#ddeaf7"/><rect x="486.2" y="184.90" width="7.6" height="11.20" fill="#c7dcef"/><rect x="486.2" y="195.80" width="7.6" height="11.40" fill="#afd1e7"/><rect x="486.2" y="206.90" width="7.6" height="11.10" fill="#93c3df"/><rect x="486.2" y="217.70" width="7.6" height="10.90" fill="#74b1d7"/><rect x="486.2" y="228.30" width="7.6" height="11.60" fill="#569dcd"/><rect x="486.2" y="239.60" width="7.6" height="11.40" fill="#3a85c1"/><rect x="486.2" y="250.70" width="7.6" height="11.90" fill="#216fb2"/><rect x="486.2" y="262.30" width="7.6" height="11.10" fill="#11559b"/><rect x="486.2" y="273.10" width="7.6" height="7.70" fill="#0b306c"/><text x="383.5" y="9.4" font-size="10.5" font-weight="bold" fill="#000">B</text><text x="410.9" y="15.3" font-size="8.4" fill="#222" stroke="#222" stroke-width="0.15" textLength="24.2" lengthAdjust="spacingAndGlyphs">coding</text><text x="440.7" y="15.3" font-size="8.4" fill="#222" stroke="#222" stroke-width="0.15" textLength="41.6" lengthAdjust="spacingAndGlyphs">non-coding</text><g font-size="8.2" fill="#1a1a1a" stroke="#1a1a1a" stroke-width="0.25"><text x="499.8" y="28.3">0</text><text x="499.1" y="137.9" textLength="19.1" lengthAdjust="spacingAndGlyphs">1,400</text><text x="496" y="170.8" textLength="12.6" lengthAdjust="spacingAndGlyphs">100</text><text x="499.3" y="280.7" textLength="19.1" lengthAdjust="spacingAndGlyphs">1,000</text></g>
<rect x="2.1" y="362.8" width="11.7" height="10.4" fill="#ef6a4e"/><rect x="2.1" y="378.8" width="11.7" height="11.2" fill="#4a90ca"/><g font-size="8.6" fill="#3a3a3a"><text x="18.2" y="372.5" textLength="50.7" lengthAdjust="spacingAndGlyphs">Coding Genes</text><text x="17.6" y="388.8" textLength="68" lengthAdjust="spacingAndGlyphs">Non-coding Genes</text></g><text x="1.2" y="9.6" font-size="11" font-weight="bold" fill="#000">A</text>
</svg>
</body></html>
